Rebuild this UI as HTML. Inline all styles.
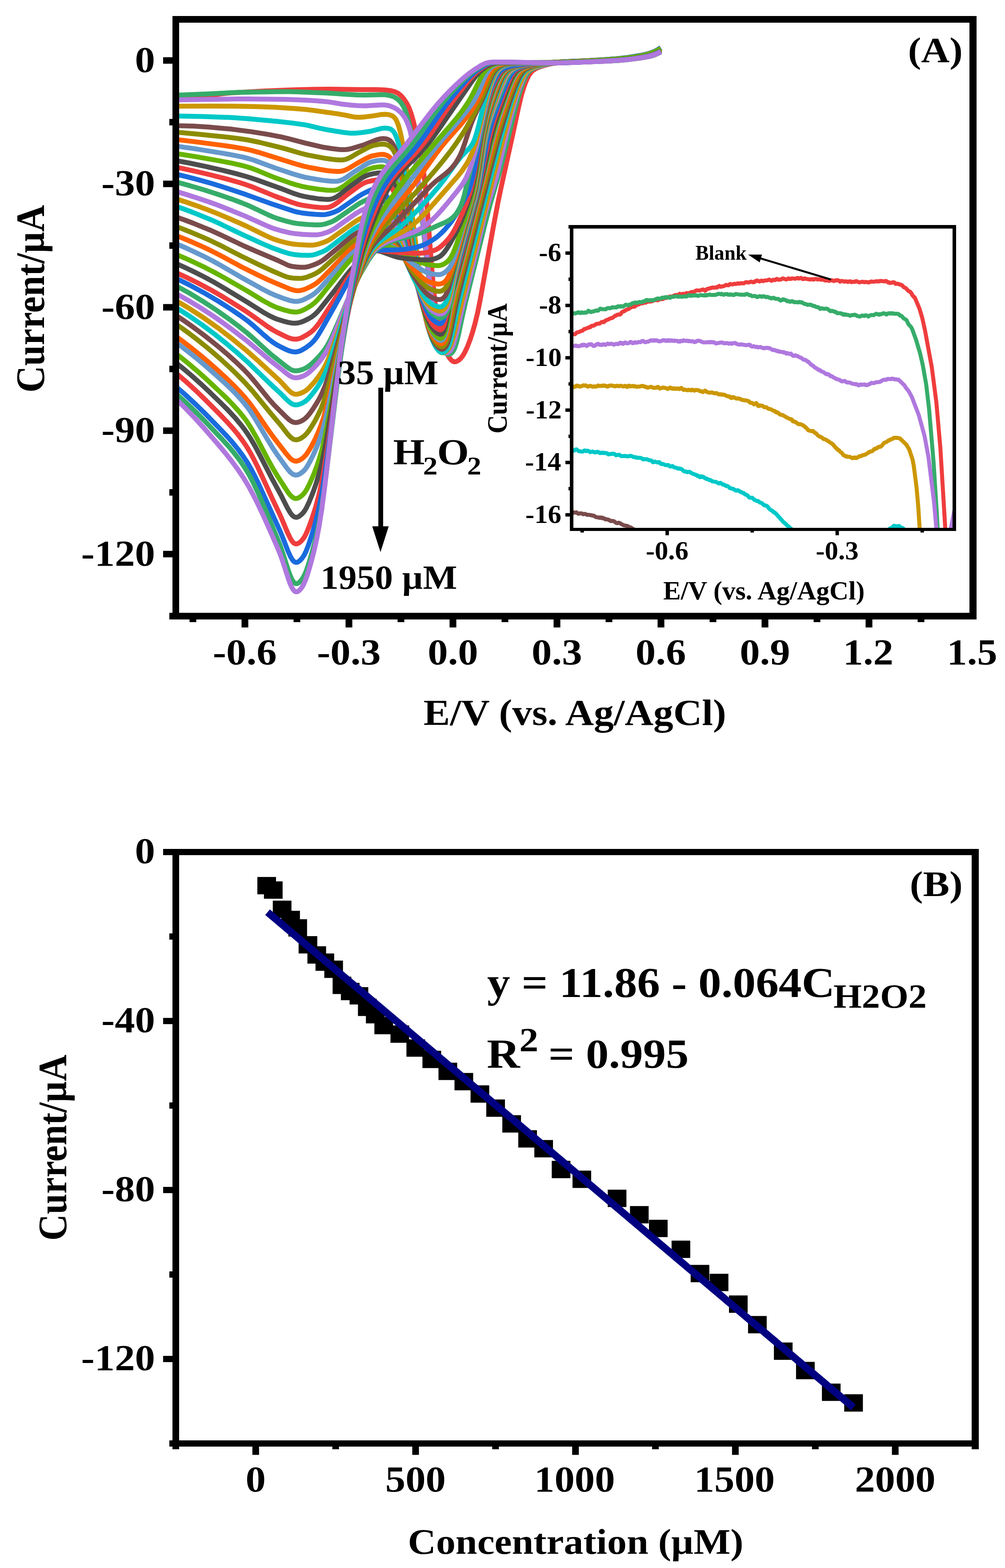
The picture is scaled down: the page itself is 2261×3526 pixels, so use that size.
<!DOCTYPE html><html><head><meta charset="utf-8"><style>html,body{margin:0;padding:0;background:#fff;}svg{display:block;}</style></head><body><svg xmlns="http://www.w3.org/2000/svg" width="2261" height="3526" viewBox="0 0 2261 3526" font-family="'Liberation Serif', 'Times New Roman', serif" font-weight="bold"><rect width="100%" height="100%" fill="#fff"/><clipPath id="cA"><rect x="403" y="51" width="1778" height="1327"/></clipPath>
<g clip-path="url(#cA)" fill="none" stroke-width="11" stroke-linejoin="round" stroke-linecap="butt">
<polyline points="395.0,223.4 424.2,219.8 472.2,214.7 503.8,210.4 517.8,209.1 588.0,205.0 626.7,203.2 660.6,201.9 708.6,200.7 741.3,200.5 813.9,201.6 846.6,201.4 865.3,202.2 878.2,203.7 887.6,206.0 894.6,209.2 898.1,211.6 901.6,214.6 905.1,218.3 908.6,222.7 912.1,227.6 915.6,233.2 920.3,242.6 925.0,255.3 929.7,271.7 935.5,296.0 944.9,339.5 949.6,364.5 951.9,379.6 954.3,397.5 957.8,431.1 961.3,472.1 971.8,608.7 976.5,659.7 978.8,680.8 982.3,707.3 984.7,722.1 988.2,740.9 991.7,756.4 996.4,773.2 999.9,783.3 1004.6,793.8 1010.4,803.8 1015.1,809.6 1017.4,811.6 1019.8,812.9 1022.1,813.5 1024.5,813.5 1026.8,812.9 1030.3,811.1 1033.8,808.5 1036.2,806.3 1040.8,800.6 1045.5,792.7 1051.4,780.1 1057.2,764.9 1063.1,747.2 1068.9,726.5 1074.8,701.9 1080.6,672.7 1109.9,510.0 1120.4,454.8 1127.4,421.3 1155.5,293.3 1167.2,238.4 1173.0,214.1 1178.9,195.0 1182.4,185.5 1185.9,177.3 1189.4,170.3 1191.8,166.5 1195.3,162.0 1198.8,158.6 1203.5,155.4 1208.1,153.0 1215.2,150.2 1223.4,147.6 1233.9,144.8 1243.2,142.9 1251.4,141.8 1263.1,141.0 1325.1,139.0 1364.9,137.4 1391.8,135.9 1411.7,134.1 1443.3,130.0 1462.0,126.6 1467.9,125.1 1473.7,123.0 1479.6,120.4 1486.6,116.8" stroke="#EF3D3D"/>
<polyline points="395.0,214.0 472.2,211.0 524.9,208.2 545.9,207.4 619.6,206.2 647.7,206.1 667.6,206.4 736.6,209.2 785.8,212.5 804.5,213.4 820.9,213.7 856.0,212.9 866.5,213.1 875.9,214.5 884.1,216.9 887.6,218.6 891.1,220.7 894.6,223.3 898.1,226.4 902.8,231.7 907.5,239.1 911.0,246.7 914.5,256.3 918.0,268.1 921.5,282.3 925.0,299.2 928.5,319.3 934.4,360.0 941.4,417.3 968.3,658.2 974.1,701.2 980.0,735.4 983.5,751.7 985.8,760.6 989.4,771.4 992.9,779.8 997.5,788.3 1001.1,792.9 1004.6,795.8 1006.9,796.7 1009.2,796.9 1011.6,796.4 1013.9,795.3 1016.3,793.5 1018.6,790.8 1020.9,787.0 1023.3,781.7 1026.8,771.1 1031.5,752.4 1042.0,702.9 1047.9,677.5 1092.3,499.2 1104.0,454.7 1120.4,399.0 1127.4,373.7 1162.5,231.0 1168.4,210.3 1175.4,189.6 1181.2,175.3 1184.7,168.4 1187.1,164.7 1189.4,161.6 1192.9,158.3 1197.6,155.3 1202.3,153.1 1209.3,150.6 1222.2,146.8 1232.7,144.0 1242.1,142.0 1252.6,140.6 1266.6,139.6 1325.1,137.4 1369.6,135.1 1394.2,133.3 1412.9,131.3 1442.1,126.9 1452.7,124.8 1460.9,122.9 1467.9,120.7 1473.7,118.4 1479.6,115.4 1486.6,111.4" stroke="#36AC6A"/>
<polyline points="395.0,224.6 530.7,222.6 557.6,222.5 644.2,223.5 688.7,225.2 713.2,226.7 733.1,228.4 742.5,229.6 770.6,234.3 790.5,236.5 804.5,237.6 822.0,238.0 857.1,236.1 864.2,236.1 868.8,236.4 877.0,238.2 886.4,242.0 893.4,246.1 900.4,251.8 905.1,256.8 909.8,263.1 913.3,269.2 916.8,276.8 920.3,286.5 922.7,294.4 927.3,315.1 930.9,334.7 934.4,357.1 942.6,417.6 949.6,477.6 967.1,639.8 973.0,687.6 977.7,720.4 981.2,741.2 984.7,759.0 988.2,773.6 990.5,781.2 992.9,786.9 994.0,789.0 996.4,791.8 997.5,792.7 999.9,793.6 1003.4,793.8 1006.9,793.1 1009.2,792.1 1011.6,790.3 1013.9,787.6 1017.4,781.1 1019.8,775.0 1022.1,767.6 1028.0,745.0 1042.0,684.0 1071.3,566.3 1091.1,482.6 1098.2,457.1 1111.0,417.5 1116.9,397.0 1123.9,368.7 1140.3,298.5 1153.2,248.2 1161.3,219.2 1168.4,198.1 1176.6,177.2 1180.1,169.9 1183.6,164.2 1187.1,160.0 1190.6,157.1 1195.3,154.4 1200.0,152.3 1207.0,150.0 1215.2,147.8 1226.9,145.1 1237.4,143.2 1247.9,141.9 1260.8,141.0 1325.1,138.8 1364.9,137.1 1391.8,135.5 1411.7,133.7 1443.3,129.5 1462.0,126.0 1467.9,124.5 1473.7,122.4 1479.6,119.7 1486.6,116.0" stroke="#AF78DE"/>
<polyline points="395.0,238.7 474.6,238.5 524.9,238.8 578.7,239.8 619.6,241.2 661.8,244.0 686.3,246.1 701.5,247.7 762.4,256.4 776.4,258.8 794.0,262.6 801.0,263.6 809.2,263.7 820.9,262.9 840.8,260.4 858.3,257.4 865.3,256.9 872.4,257.4 878.2,258.8 882.9,260.8 886.4,263.3 889.9,267.5 892.2,271.7 894.6,277.2 896.9,284.1 899.3,292.5 902.8,307.3 908.6,338.4 912.1,361.5 915.6,387.8 935.5,549.7 943.7,612.2 951.9,666.1 956.6,693.2 961.3,717.5 964.8,733.4 969.5,750.9 974.1,764.7 978.8,775.6 983.5,783.9 988.2,789.6 990.5,791.6 992.9,792.9 995.2,793.6 997.5,793.5 999.9,792.8 1003.4,790.7 1006.9,787.3 1009.2,784.2 1011.6,780.4 1013.9,775.6 1016.3,769.5 1018.6,762.2 1023.3,744.4 1038.5,679.2 1098.2,442.7 1123.9,342.3 1142.6,272.3 1153.2,235.0 1162.5,206.3 1167.2,193.9 1173.0,180.2 1177.7,170.9 1181.2,165.2 1184.7,160.9 1188.3,157.8 1192.9,154.7 1197.6,152.4 1203.5,150.1 1211.7,147.7 1222.2,145.1 1232.7,143.0 1245.6,141.1 1258.5,140.0 1278.3,138.9 1325.1,137.2 1360.2,135.3 1390.7,133.2 1412.9,130.9 1442.1,126.4 1452.7,124.3 1460.9,122.3 1467.9,120.1 1473.7,117.7 1479.6,114.7 1486.6,110.6" stroke="#CC9700"/>
<polyline points="395.0,260.9 455.8,261.9 520.2,264.3 558.8,267.0 624.3,273.0 657.1,276.6 684.0,280.4 694.5,282.3 719.1,288.4 735.5,291.7 772.9,297.8 786.9,299.4 794.0,299.6 802.2,299.3 811.5,298.4 823.2,296.8 834.9,294.9 854.8,289.6 859.5,288.6 864.2,288.1 870.0,288.2 874.7,288.9 879.4,290.7 882.9,293.2 886.4,297.3 888.7,301.4 891.1,306.6 893.4,313.0 895.8,320.6 899.3,333.9 905.1,361.8 908.6,382.6 912.1,406.3 932.0,554.1 941.4,619.9 946.1,649.2 950.7,675.8 955.4,700.4 960.1,722.4 963.6,736.8 968.3,752.7 973.0,765.4 977.7,775.5 982.3,783.2 987.0,788.7 989.4,790.7 991.7,792.1 994.0,792.8 996.4,792.8 998.7,792.1 1001.1,790.6 1003.4,788.4 1005.7,785.4 1008.1,781.5 1010.4,776.3 1013.9,765.6 1017.4,751.6 1029.1,695.5 1036.2,665.5 1105.2,393.7 1127.4,308.4 1143.8,249.9 1149.6,230.6 1155.5,212.9 1161.3,196.9 1167.2,182.8 1171.9,173.1 1176.6,165.2 1180.1,160.9 1183.6,157.7 1188.3,154.6 1192.9,152.3 1198.8,150.0 1204.6,148.3 1223.4,144.6 1239.7,142.4 1256.1,141.1 1363.8,136.8 1391.8,135.2 1411.7,133.3 1443.3,129.0 1453.8,127.2 1462.0,125.5 1467.9,123.8 1473.7,121.7 1479.6,119.0 1486.6,115.2" stroke="#00C8C8"/>
<polyline points="395.0,282.6 433.6,283.5 469.9,285.8 522.5,290.6 564.6,296.1 600.9,301.9 632.5,307.9 648.9,311.8 686.3,321.6 724.9,330.7 747.2,334.3 764.7,336.3 771.7,336.6 778.8,336.3 785.8,335.2 792.8,333.6 819.7,325.4 845.4,315.1 851.3,313.3 856.0,312.2 863.0,311.6 868.8,312.3 873.5,313.9 875.9,315.1 878.2,316.9 881.7,320.8 885.2,326.4 887.6,331.4 891.1,340.5 896.9,360.3 902.8,386.4 906.3,405.9 909.8,427.8 929.7,562.1 939.0,621.9 943.7,648.6 948.4,672.9 954.3,700.8 958.9,720.6 962.4,733.5 967.1,747.9 971.8,759.4 976.5,768.7 981.2,775.9 985.8,781.1 988.2,783.0 990.5,784.4 992.9,785.3 995.2,785.4 997.5,784.7 999.9,783.1 1003.4,778.8 1006.9,771.6 1010.4,760.5 1013.9,745.5 1024.5,691.8 1031.5,661.3 1106.4,368.0 1116.9,328.0 1125.1,298.7 1140.3,248.6 1147.3,227.3 1154.3,207.3 1160.2,192.0 1164.9,181.1 1169.5,171.6 1174.2,164.2 1177.7,160.1 1181.2,157.2 1185.9,154.2 1190.6,152.0 1196.4,149.8 1203.5,147.8 1222.2,143.9 1238.6,141.6 1254.9,140.0 1277.2,138.8 1325.1,137.0 1360.2,135.1 1390.7,132.9 1412.9,130.5 1442.1,125.9 1452.7,123.8 1460.9,121.7 1467.9,119.5 1473.7,117.1 1479.6,114.0 1486.6,109.8" stroke="#7A4B4B"/>
<polyline points="395.0,297.0 443.0,301.4 507.3,308.0 534.2,311.2 556.5,314.5 583.4,320.0 627.8,330.9 643.0,334.9 675.8,344.5 691.0,348.3 733.1,356.3 747.2,358.3 758.9,359.4 765.9,359.7 771.7,359.5 776.4,358.7 782.3,356.8 789.3,353.4 806.8,343.1 827.9,331.8 834.9,328.7 840.8,326.9 853.6,324.6 859.5,324.1 864.2,324.2 867.7,324.7 871.2,325.9 874.7,327.6 878.2,330.0 881.7,333.4 885.2,338.4 887.6,342.9 891.1,351.5 896.9,370.4 902.8,395.5 906.3,414.1 909.8,435.3 929.7,564.9 939.0,622.5 943.7,648.3 948.4,671.8 954.3,698.7 958.9,717.8 962.4,730.2 967.1,744.1 971.8,755.2 976.5,764.1 981.2,771.0 985.8,775.9 988.2,777.7 990.5,779.0 992.9,779.7 995.2,779.6 997.5,778.5 998.7,777.5 1001.1,774.6 1002.2,772.7 1005.7,764.1 1008.1,755.8 1011.6,739.6 1020.9,689.7 1028.0,658.7 1047.9,582.1 1106.4,352.1 1119.2,304.2 1126.2,280.3 1134.4,254.0 1142.6,229.4 1150.8,206.2 1156.7,191.1 1161.3,180.3 1166.0,170.9 1170.7,163.6 1174.2,159.7 1177.7,156.8 1182.4,154.0 1187.1,151.7 1191.8,150.0 1197.6,148.3 1215.2,145.0 1233.9,142.6 1253.8,141.1 1362.6,136.6 1390.7,134.9 1410.6,133.1 1441.0,128.9 1452.7,126.9 1460.9,125.2 1467.9,123.2 1473.7,121.0 1479.6,118.3 1486.6,114.5" stroke="#8C8C00"/>
<polyline points="395.0,313.6 441.8,319.1 502.6,327.1 529.5,331.1 550.6,334.8 564.6,338.0 579.9,342.1 666.4,368.9 682.8,373.6 695.7,376.5 722.6,381.5 736.6,383.7 749.5,385.1 758.9,385.6 764.7,385.4 770.6,384.5 776.4,382.6 784.6,378.6 803.3,367.4 824.4,355.9 831.4,352.6 838.4,350.3 851.3,347.9 857.1,347.3 861.8,347.2 865.3,347.7 868.8,348.7 872.4,350.3 875.9,352.7 879.4,356.0 882.9,360.6 886.4,367.0 888.7,372.3 894.6,389.0 900.4,411.3 903.9,427.9 907.5,446.9 928.5,573.1 937.9,626.2 942.6,649.9 947.2,671.6 953.1,696.5 957.8,714.2 961.3,725.8 966.0,738.8 970.6,749.3 975.3,757.7 980.0,764.3 984.7,769.2 989.4,772.3 991.7,773.1 994.0,773.0 996.4,771.9 997.5,770.8 999.9,767.4 1002.2,762.0 1004.6,754.2 1008.1,738.0 1017.4,685.9 1023.3,659.5 1043.2,583.5 1085.3,418.3 1104.0,343.6 1113.4,308.4 1120.4,284.5 1127.4,262.3 1136.8,234.5 1146.1,208.3 1152.0,193.0 1156.7,182.0 1161.3,172.4 1166.0,164.7 1168.4,161.7 1171.9,158.3 1176.6,155.1 1181.2,152.6 1187.1,150.3 1192.9,148.5 1209.3,145.1 1229.2,142.2 1251.4,140.1 1274.8,138.8 1325.1,136.8 1359.1,134.9 1389.5,132.6 1411.7,130.2 1441.0,125.7 1451.5,123.5 1460.9,121.2 1467.9,118.9 1473.7,116.4 1479.6,113.3 1486.6,109.1" stroke="#FF6100"/>
<polyline points="395.0,328.4 440.6,334.9 498.0,344.1 524.9,348.8 545.9,353.1 558.8,356.4 570.5,360.0 620.8,378.4 658.2,390.7 673.5,395.3 687.5,398.8 708.6,402.7 727.3,405.6 742.5,407.3 751.8,407.8 758.9,407.5 763.5,406.6 769.4,404.5 774.1,402.1 778.8,399.3 798.6,385.3 820.9,371.2 827.9,367.2 834.9,364.4 840.8,362.8 847.8,361.4 854.8,360.5 859.5,360.2 863.0,360.4 866.5,361.3 870.0,362.9 872.4,364.4 875.9,367.3 879.4,371.3 882.9,376.6 886.4,383.5 889.9,392.1 893.4,402.2 899.3,423.5 902.8,439.4 906.3,457.5 926.2,569.5 936.7,625.7 941.4,648.0 946.1,668.4 951.9,691.8 956.6,708.5 961.3,722.9 964.8,732.0 969.5,742.0 974.1,750.2 978.8,756.6 983.5,761.4 988.2,764.6 990.5,765.5 992.9,765.6 995.2,764.6 996.4,763.6 998.7,760.1 1001.1,754.3 1003.4,745.9 1006.9,728.7 1015.1,682.9 1020.9,656.7 1039.7,585.9 1075.9,444.2 1086.5,402.1 1102.8,334.3 1111.0,303.1 1118.1,279.3 1125.1,257.3 1133.3,233.3 1142.6,207.2 1148.5,192.0 1153.2,181.1 1157.8,171.6 1162.5,164.1 1164.9,161.3 1168.4,158.0 1173.0,154.8 1177.7,152.4 1182.4,150.5 1188.3,148.7 1203.5,145.8 1224.5,143.1 1249.1,141.2 1270.2,140.1 1322.8,138.2 1362.6,136.3 1390.7,134.6 1410.6,132.7 1441.0,128.5 1452.7,126.4 1460.9,124.6 1467.9,122.6 1473.7,120.4 1479.6,117.6 1486.6,113.7" stroke="#6699CC"/>
<polyline points="395.0,345.1 439.5,352.1 493.3,361.6 521.4,366.9 542.4,371.6 555.3,375.0 567.0,378.8 579.9,383.7 607.9,395.4 620.8,400.4 651.2,410.9 667.6,416.0 680.5,419.4 693.3,421.9 717.9,425.7 736.6,427.7 746.0,428.1 753.0,427.8 758.9,426.4 764.7,423.9 772.9,418.8 792.8,403.7 816.2,387.6 823.2,383.2 830.2,380.0 836.1,378.2 844.3,376.4 851.3,375.4 857.1,375.0 860.7,375.2 864.2,376.0 867.7,377.5 871.2,379.6 874.7,382.3 878.2,386.1 881.7,391.0 885.2,397.5 888.7,405.5 892.2,415.0 895.8,426.2 898.1,434.9 901.6,449.9 905.1,466.9 926.2,578.8 936.7,631.4 946.1,671.1 951.9,692.9 956.6,708.5 960.1,718.7 964.8,730.2 969.5,739.4 974.1,747.0 978.8,752.9 981.2,755.3 984.7,758.2 987.0,759.7 989.4,760.7 991.7,761.0 992.9,760.8 995.2,759.4 997.5,756.2 999.9,750.6 1002.2,742.3 1005.7,725.0 1012.8,685.4 1018.6,658.5 1037.3,588.4 1075.9,438.8 1085.3,400.9 1101.7,330.7 1109.9,299.1 1115.7,279.1 1122.7,257.2 1130.9,233.3 1141.5,204.1 1147.3,189.2 1152.0,178.6 1156.7,169.5 1160.2,164.2 1162.5,161.3 1166.0,158.0 1170.7,154.8 1175.4,152.4 1180.1,150.5 1185.9,148.7 1201.1,145.6 1222.2,142.6 1246.8,140.3 1269.0,138.9 1321.6,136.7 1356.7,134.7 1388.3,132.4 1410.6,130.0 1439.8,125.4 1450.3,123.3 1459.7,120.9 1466.7,118.7 1472.6,116.3 1478.4,113.3 1486.6,108.3" stroke="#66B400"/>
<polyline points="395.0,360.8 427.8,367.0 462.9,374.4 501.5,383.1 530.7,390.4 555.3,397.2 576.3,404.0 633.7,424.5 661.8,435.3 673.5,439.1 684.0,441.7 701.5,444.8 715.6,446.9 728.4,448.1 737.8,448.5 743.7,448.0 749.5,446.5 755.4,443.8 764.7,437.7 785.8,420.8 811.5,402.2 818.5,397.7 825.6,394.4 831.4,392.6 839.6,390.7 847.8,389.3 853.6,388.8 858.3,389.1 861.8,389.8 865.3,391.2 870.0,393.8 873.5,396.4 877.0,399.9 880.5,404.5 884.1,410.5 887.6,417.8 891.1,426.5 894.6,436.9 896.9,444.9 900.4,458.7 903.9,474.6 925.0,578.9 935.5,628.1 944.9,665.4 950.7,686.0 955.4,700.7 960.1,713.4 963.6,721.5 968.3,730.4 973.0,737.6 977.7,743.4 982.3,747.8 987.0,750.8 989.4,751.6 991.7,751.8 994.0,750.8 996.4,748.1 998.7,743.1 1001.1,735.4 1004.6,719.2 1011.6,681.8 1016.3,660.8 1036.2,586.5 1075.9,433.5 1084.1,399.4 1100.5,325.6 1108.7,293.7 1114.5,274.1 1120.4,256.3 1140.3,201.0 1145.0,189.2 1149.6,178.6 1154.3,169.5 1157.8,164.1 1160.2,161.3 1163.7,158.0 1168.4,154.8 1173.0,152.4 1177.7,150.5 1183.6,148.7 1197.6,146.0 1218.7,143.4 1245.6,141.2 1269.0,140.0 1322.8,138.0 1361.4,136.1 1389.5,134.3 1409.4,132.4 1439.8,128.2 1451.5,126.1 1460.9,124.0 1467.9,122.0 1473.7,119.7 1479.6,116.9 1486.6,112.9" stroke="#4D4D4D"/>
<polyline points="395.0,375.6 431.3,383.3 468.7,392.0 509.7,402.4 540.1,411.0 552.9,415.1 564.6,419.2 619.6,441.5 653.6,454.0 667.6,458.6 677.0,460.9 686.3,462.5 705.0,465.1 719.1,466.5 729.6,467.0 736.6,466.6 742.5,465.3 749.5,462.1 758.9,455.9 781.1,437.8 806.8,418.9 815.0,413.6 822.0,410.3 829.1,408.1 837.3,406.3 845.4,404.9 851.3,404.5 856.0,404.8 860.7,405.9 864.2,407.3 868.8,409.8 872.4,412.3 875.9,415.5 879.4,419.7 882.9,425.1 886.4,431.8 889.9,439.7 893.4,449.0 895.8,456.3 899.3,469.0 902.8,483.5 921.5,569.2 934.4,625.2 939.0,643.2 944.9,663.8 950.7,682.4 955.4,695.8 958.9,704.6 963.6,714.5 968.3,722.6 973.0,729.1 977.7,734.4 983.5,739.1 988.2,741.3 990.5,741.7 991.7,741.5 994.0,740.2 996.4,737.1 998.7,731.6 999.9,727.8 1003.4,713.1 1011.6,673.1 1016.3,653.7 1032.6,593.4 1072.4,442.3 1077.1,423.3 1081.8,402.5 1098.2,321.1 1101.7,306.0 1106.4,288.4 1111.0,273.0 1116.9,255.7 1139.1,196.0 1143.8,184.6 1148.5,174.6 1152.0,168.2 1155.5,163.1 1157.8,160.5 1161.3,157.4 1166.0,154.4 1170.7,152.1 1175.4,150.2 1181.2,148.5 1195.3,145.7 1216.3,142.8 1242.1,140.5 1267.8,138.8 1321.6,136.5 1356.7,134.5 1387.2,132.2 1410.6,129.6 1424.6,127.6 1439.8,124.9 1450.3,122.8 1459.7,120.4 1466.7,118.1 1472.6,115.6 1478.4,112.6 1486.6,107.5" stroke="#EF3D3D"/>
<polyline points="395.0,391.3 421.9,397.9 448.8,404.9 476.9,412.8 500.3,420.0 552.9,437.3 613.8,459.3 660.6,474.8 669.9,477.2 678.1,478.7 694.5,480.7 709.7,482.1 723.8,482.8 732.0,482.4 741.3,480.5 751.8,477.0 758.9,473.9 764.7,470.5 806.8,441.5 813.9,437.2 820.9,433.5 834.9,427.0 843.1,424.2 846.6,423.6 850.1,423.4 853.6,424.1 856.0,425.1 859.5,427.5 864.2,432.5 867.7,437.3 872.4,445.1 878.2,456.3 885.2,471.2 892.2,487.1 896.9,498.8 901.6,512.4 906.3,527.9 925.0,599.2 932.0,623.5 937.9,641.3 946.1,664.1 951.9,679.5 957.8,693.5 961.3,700.8 964.8,707.2 968.3,712.5 971.8,716.7 976.5,721.1 982.3,725.4 987.0,727.7 990.5,728.0 992.9,727.1 994.0,726.1 996.4,722.7 998.7,717.2 1001.1,709.6 1015.1,652.5 1070.1,446.5 1075.9,422.4 1080.6,400.2 1095.8,317.7 1099.3,302.0 1104.0,284.2 1108.7,269.1 1113.4,255.6 1136.8,194.0 1141.5,182.9 1145.0,175.4 1148.5,168.9 1152.0,163.6 1154.3,160.9 1157.8,157.7 1162.5,154.6 1167.2,152.2 1171.9,150.3 1176.6,148.9 1189.4,146.4 1210.5,143.8 1237.4,141.6 1267.8,139.9 1321.6,137.8 1359.1,136.0 1387.2,134.2 1408.2,132.2 1438.6,127.9 1450.3,125.8 1459.7,123.8 1466.7,121.7 1472.6,119.6 1478.4,116.8 1486.6,112.2" stroke="#1A6BDE"/>
<polyline points="395.0,408.9 426.6,417.4 459.3,427.1 490.9,437.2 521.4,447.7 543.6,456.0 557.6,461.6 569.3,466.9 604.4,483.6 615.0,488.1 625.5,491.9 645.4,497.7 660.6,501.3 672.3,503.1 691.0,504.8 709.7,505.8 721.4,505.6 730.8,503.9 742.5,500.1 749.5,497.1 756.5,493.1 802.2,461.6 809.2,457.2 816.2,453.4 831.4,446.2 840.8,442.9 845.4,442.0 849.0,441.9 852.5,442.5 854.8,443.4 858.3,445.6 863.0,450.0 866.5,454.3 871.2,461.2 877.0,471.2 884.1,484.4 891.1,498.5 895.8,508.9 900.4,520.9 905.1,534.7 923.8,597.9 932.0,623.1 937.9,638.6 946.1,658.8 951.9,672.4 957.8,684.7 962.4,693.0 966.0,698.2 969.5,702.4 974.1,706.7 980.0,710.9 985.8,713.9 990.5,714.9 994.0,714.4 997.5,712.5 999.9,710.4 1002.2,707.5 1004.6,703.7 1006.9,698.7 1009.2,692.2 1012.8,679.2 1016.3,662.6 1025.6,612.6 1032.6,580.8 1043.2,540.6 1066.6,456.2 1073.6,427.6 1079.4,397.0 1088.8,336.3 1092.3,315.4 1095.8,298.0 1100.5,279.5 1104.0,268.1 1108.7,254.6 1133.3,191.1 1137.9,180.3 1141.5,173.1 1145.0,167.0 1148.5,162.2 1150.8,159.7 1154.3,156.8 1159.0,153.8 1163.7,151.6 1168.4,149.8 1173.0,148.6 1184.7,146.6 1205.8,144.4 1231.5,142.6 1267.8,140.9 1363.8,137.4 1389.5,136.0 1407.0,134.6 1438.6,130.7 1451.5,128.7 1460.9,126.9 1467.9,125.1 1473.7,123.0 1479.6,120.4 1486.6,116.8" stroke="#36AC6A"/>
<polyline points="395.0,430.2 418.4,437.1 443.0,444.9 469.9,454.0 490.9,461.7 514.3,470.8 552.9,486.5 598.6,507.0 609.1,511.4 618.5,514.8 633.7,519.2 652.4,523.6 665.3,525.6 680.5,526.9 701.5,528.0 714.4,527.9 723.8,526.3 736.6,522.2 744.8,518.6 751.8,514.5 798.6,481.5 805.7,477.0 812.7,473.0 829.1,465.1 838.4,461.7 843.1,460.6 846.6,460.3 850.1,460.6 853.6,461.7 857.1,463.7 861.8,467.7 865.3,471.6 870.0,477.8 875.9,486.7 881.7,496.5 889.9,511.2 894.6,520.4 899.3,531.1 905.1,546.7 922.7,600.1 930.9,622.8 936.7,636.9 944.9,655.0 950.7,667.3 956.6,678.4 961.3,686.1 964.8,690.8 968.3,694.8 973.0,698.8 978.8,702.7 984.7,705.5 989.4,706.6 992.9,706.3 996.4,704.8 998.7,702.9 1001.1,700.3 1003.4,696.8 1005.7,692.2 1008.1,686.1 1011.6,673.9 1015.1,658.2 1025.6,604.8 1031.5,579.5 1045.5,527.0 1065.4,456.1 1072.4,427.6 1078.3,396.7 1087.6,334.9 1091.1,313.7 1094.7,296.0 1099.3,277.2 1104.0,261.7 1108.7,248.0 1128.6,194.9 1133.3,183.7 1137.9,173.8 1141.5,167.6 1145.0,162.6 1147.3,160.1 1150.8,157.1 1155.5,154.1 1160.2,151.8 1164.9,150.0 1169.5,148.7 1181.2,146.5 1202.3,144.0 1228.0,141.9 1265.5,139.8 1321.6,137.6 1357.9,135.8 1387.2,133.8 1408.2,131.8 1438.6,127.5 1450.3,125.3 1459.7,123.2 1466.7,121.1 1472.6,118.9 1478.4,116.1 1486.6,111.4" stroke="#AF78DE"/>
<polyline points="395.0,446.8 419.6,454.7 444.1,463.2 471.0,473.1 492.1,481.5 515.5,491.4 554.1,508.4 597.4,529.7 606.8,534.0 616.1,537.8 629.0,542.0 646.5,546.5 658.2,548.7 671.1,550.0 693.3,551.2 700.4,551.2 706.2,550.9 710.9,550.2 716.7,548.9 729.6,544.5 737.8,540.9 744.8,536.7 794.0,501.8 802.2,496.4 809.2,492.5 825.6,484.5 836.1,480.4 840.8,479.2 845.4,478.8 849.0,479.1 852.5,480.0 856.0,481.8 860.7,485.4 864.2,488.9 868.8,494.4 874.7,502.3 880.5,511.1 888.7,524.1 893.4,532.3 898.1,541.7 903.9,555.5 922.7,606.2 929.7,623.4 935.5,636.0 944.9,654.4 950.7,665.3 956.6,675.0 961.3,681.7 964.8,685.8 968.3,689.2 973.0,692.7 978.8,696.1 984.7,698.5 989.4,699.3 992.9,698.9 995.2,697.9 997.5,696.3 999.9,693.9 1002.2,690.7 1005.7,683.8 1009.2,673.5 1012.8,659.5 1023.3,608.3 1030.3,578.3 1042.0,534.8 1063.1,460.3 1067.7,442.6 1072.4,422.0 1075.9,403.3 1079.4,381.4 1086.5,333.4 1090.0,312.0 1094.7,288.9 1099.3,270.7 1104.0,255.3 1108.7,241.6 1126.2,193.9 1130.9,182.8 1135.6,173.1 1139.1,167.0 1142.6,162.2 1145.0,159.7 1148.5,156.8 1153.2,153.8 1157.8,151.6 1166.0,148.8 1177.7,146.8 1198.8,144.6 1224.5,142.8 1266.6,140.8 1362.6,137.2 1388.3,135.8 1405.9,134.3 1437.5,130.4 1451.5,128.2 1460.9,126.3 1467.9,124.5 1473.7,122.4 1479.6,119.7 1486.6,116.0" stroke="#CC9700"/>
<polyline points="395.0,463.5 414.9,470.5 434.8,478.0 475.7,494.6 495.6,503.6 545.9,527.7 590.4,548.0 612.6,557.4 636.0,565.7 651.2,570.4 661.8,572.4 675.8,573.7 692.2,574.3 701.5,573.7 706.2,572.8 712.1,571.2 726.1,565.9 733.1,562.3 740.1,557.7 790.5,519.3 798.6,513.6 805.7,509.3 824.4,499.5 830.2,496.9 834.9,495.2 839.6,494.1 844.3,493.6 847.8,493.8 851.3,494.7 854.8,496.3 859.5,499.5 863.0,502.5 867.7,507.4 873.5,514.5 879.4,522.2 887.6,533.7 892.2,541.0 896.9,549.3 902.8,561.5 921.5,606.3 929.7,624.1 935.5,635.1 943.7,649.3 949.6,659.0 955.4,667.8 960.1,673.8 963.6,677.6 968.3,681.6 973.0,684.6 978.8,687.5 984.7,689.5 989.4,690.1 992.9,689.6 995.2,688.5 997.5,686.8 1001.1,682.8 1004.6,676.5 1008.1,667.1 1012.8,649.3 1022.1,606.1 1029.1,577.3 1045.5,517.2 1061.9,460.2 1066.6,442.6 1071.3,421.9 1074.8,403.0 1078.3,380.7 1085.3,331.8 1088.8,310.1 1093.5,286.7 1098.2,268.1 1102.8,252.3 1107.5,238.1 1116.9,211.5 1122.7,195.9 1127.4,184.6 1132.1,174.6 1136.8,166.4 1140.3,161.7 1142.6,159.3 1146.1,156.5 1150.8,153.7 1155.5,151.4 1163.7,148.8 1175.4,146.6 1196.4,144.1 1221.0,142.2 1264.3,139.7 1320.5,137.4 1355.6,135.6 1384.8,133.7 1407.0,131.6 1422.3,129.6 1437.5,127.2 1450.3,124.8 1459.7,122.6 1466.7,120.5 1472.6,118.2 1478.4,115.4 1486.6,110.6" stroke="#00C8C8"/>
<polyline points="395.0,487.5 414.9,494.5 434.8,502.0 475.7,518.7 495.6,527.7 549.4,553.4 574.0,564.1 625.5,585.9 647.7,596.4 652.4,598.0 658.2,599.2 666.4,600.3 675.8,601.0 686.3,600.9 694.5,599.4 706.2,595.4 713.2,592.5 719.1,589.6 724.9,586.1 732.0,581.0 785.8,536.1 794.0,529.9 801.0,525.2 820.9,513.8 831.4,509.0 837.3,507.2 841.9,506.5 846.6,506.7 850.1,507.4 853.6,508.8 858.3,511.5 861.8,514.1 866.5,518.3 872.4,524.2 878.2,530.8 886.4,540.6 891.1,546.7 895.8,553.7 901.6,564.0 920.3,602.0 928.5,617.1 934.4,626.5 943.7,640.3 949.6,648.4 955.4,655.6 960.1,660.6 963.6,663.6 968.3,666.8 973.0,669.3 978.8,671.6 984.7,673.2 989.4,673.6 992.9,672.9 995.2,671.8 997.5,670.1 999.9,667.8 1002.2,664.6 1005.7,657.8 1009.2,648.1 1012.8,635.8 1025.6,585.4 1042.0,525.2 1064.2,447.0 1068.9,427.4 1073.6,403.1 1077.1,381.0 1085.3,324.7 1088.8,303.9 1093.5,281.5 1099.3,259.0 1104.0,243.5 1109.9,225.7 1115.7,209.0 1121.6,193.5 1126.2,182.5 1130.9,172.8 1134.4,166.8 1137.9,162.0 1140.3,159.6 1143.8,156.7 1147.3,154.4 1152.0,152.0 1160.2,149.1 1171.9,147.0 1192.9,144.7 1217.5,143.0 1265.5,140.7 1360.2,137.0 1387.2,135.5 1405.9,134.0 1437.5,129.9 1451.5,127.7 1460.9,125.7 1467.9,123.8 1473.7,121.7 1479.6,119.0 1486.6,115.2" stroke="#7A4B4B"/>
<polyline points="395.0,508.8 413.7,515.8 433.6,523.8 454.7,532.7 474.6,541.6 495.6,551.7 543.6,576.4 581.0,594.5 607.9,607.1 638.4,620.2 645.4,622.8 651.2,624.3 659.4,625.4 671.1,626.1 680.5,625.7 688.7,623.9 700.4,619.5 707.4,616.3 713.2,613.2 720.3,608.6 727.3,602.9 781.1,554.0 789.3,547.1 797.5,541.0 817.4,528.6 823.2,525.3 829.1,522.5 834.9,520.5 839.6,519.6 844.3,519.4 849.0,520.1 852.5,521.3 857.1,523.5 865.3,529.0 877.0,539.1 889.9,552.0 894.6,557.7 900.4,566.0 919.2,596.8 927.3,609.1 933.2,616.7 942.6,627.9 948.4,634.5 954.3,640.4 958.9,644.4 963.6,647.7 968.3,650.1 973.0,652.0 978.8,653.9 984.7,655.1 989.4,655.2 992.9,654.4 995.2,653.4 997.5,652.0 1001.1,648.6 1004.6,643.5 1006.9,638.8 1009.2,633.2 1012.8,623.3 1024.5,584.8 1045.5,507.7 1060.7,455.4 1066.6,432.5 1070.1,416.0 1073.6,396.2 1083.0,332.8 1087.6,304.2 1092.3,281.2 1097.0,262.3 1101.7,245.7 1106.4,230.6 1112.2,213.1 1118.1,197.1 1123.9,183.1 1128.6,173.3 1133.3,165.4 1136.8,161.0 1140.3,157.8 1143.8,155.3 1148.5,152.7 1154.3,150.3 1159.0,148.9 1164.9,147.7 1184.7,145.0 1204.6,143.1 1229.2,141.5 1267.8,139.4 1327.5,136.9 1369.6,134.5 1398.9,132.1 1422.3,129.2 1446.8,125.0 1456.2,123.0 1463.2,121.1 1469.1,119.1 1473.7,117.1 1479.6,114.0 1486.6,109.8" stroke="#8C8C00"/>
<polyline points="395.0,529.1 413.7,536.6 433.6,544.9 453.5,553.8 473.4,563.1 493.3,573.1 544.8,600.9 579.9,618.3 602.1,628.8 616.1,634.9 652.4,650.0 661.8,652.8 666.4,653.5 669.9,653.7 673.5,653.5 678.1,652.8 682.8,651.5 687.5,649.9 701.5,643.2 710.9,637.5 716.7,632.9 723.8,626.5 757.7,591.9 778.8,570.0 786.9,562.2 795.1,555.3 816.2,540.3 822.0,536.6 827.9,533.5 833.7,531.1 838.4,529.9 843.1,529.5 847.8,529.9 851.3,530.8 856.0,532.4 860.7,534.7 865.3,537.5 878.2,546.6 889.9,556.2 894.6,560.8 900.4,567.7 919.2,592.5 927.3,602.3 942.6,617.3 948.4,622.6 954.3,627.3 958.9,630.5 963.6,633.0 968.3,634.9 975.3,637.0 981.2,638.2 985.8,638.7 990.5,638.5 994.0,637.6 997.5,635.8 1001.1,633.1 1004.6,629.0 1008.1,623.3 1012.8,613.4 1017.4,601.6 1022.1,588.2 1025.6,577.0 1030.3,560.3 1044.3,507.2 1060.7,451.0 1066.6,427.3 1070.1,409.8 1072.4,396.4 1083.0,325.6 1086.5,304.4 1091.1,280.9 1097.0,256.8 1101.7,240.0 1106.4,224.7 1112.2,207.3 1116.9,194.8 1121.6,183.6 1126.2,173.8 1130.9,165.8 1134.4,161.3 1136.8,159.0 1140.3,156.2 1143.8,154.0 1148.5,151.7 1156.7,148.9 1167.2,147.1 1188.3,144.8 1212.8,143.0 1264.3,140.6 1359.1,136.8 1386.0,135.2 1405.9,133.6 1436.3,129.6 1450.3,127.4 1459.7,125.4 1466.7,123.6 1472.6,121.5 1478.4,118.9 1486.6,114.5" stroke="#FF6100"/>
<polyline points="395.0,547.6 414.9,556.1 434.8,565.2 455.8,575.2 476.9,585.9 495.6,596.2 542.4,623.4 588.0,648.8 605.6,657.9 620.8,664.7 640.7,672.1 652.4,675.8 660.6,677.4 665.3,677.7 669.9,677.5 674.6,676.7 680.5,674.9 686.3,672.4 694.5,668.1 701.5,664.1 707.4,660.1 714.4,654.1 721.4,647.0 755.4,609.3 776.4,585.4 789.3,572.3 801.0,562.5 813.9,552.7 820.9,547.8 825.6,545.0 830.2,542.6 834.9,540.9 838.4,540.1 843.1,539.7 847.8,539.9 852.5,540.8 858.3,542.6 870.0,547.7 886.4,556.7 892.2,560.6 898.1,565.2 919.2,585.1 927.3,592.0 943.7,603.5 949.6,607.2 955.4,610.4 960.1,612.5 964.8,614.1 970.6,615.5 977.7,616.8 982.3,617.4 987.0,617.5 990.5,617.2 994.0,616.2 998.7,613.9 1004.6,609.5 1009.2,604.7 1012.8,599.8 1016.3,593.3 1018.6,587.9 1022.1,578.5 1025.6,567.6 1042.0,510.3 1057.2,459.8 1064.2,432.6 1067.7,416.1 1071.3,396.7 1081.8,326.1 1085.3,304.7 1091.1,275.2 1097.0,250.9 1101.7,233.9 1106.4,218.6 1111.0,204.8 1115.7,192.5 1120.4,181.6 1125.1,172.1 1129.8,164.5 1133.3,160.3 1136.8,157.3 1140.3,154.9 1145.0,152.4 1150.8,150.1 1155.5,148.7 1161.3,147.6 1181.2,144.9 1200.0,143.2 1223.4,141.6 1267.8,139.2 1326.3,136.7 1366.1,134.4 1396.5,132.0 1419.9,129.1 1445.7,124.8 1462.0,120.8 1467.9,118.9 1473.7,116.4 1479.6,113.3 1486.6,109.1" stroke="#6699CC"/>
<polyline points="395.0,571.7 416.1,580.6 438.3,590.6 461.7,601.8 482.7,612.6 502.6,623.5 555.3,653.7 592.7,676.5 610.3,686.1 623.1,691.7 640.7,697.4 653.6,700.7 662.9,701.8 667.6,701.7 672.3,700.9 677.0,699.5 681.6,697.5 688.7,693.9 696.9,689.0 702.7,685.0 707.4,681.2 713.2,675.6 720.3,667.8 739.0,644.4 754.2,626.1 775.2,599.6 788.1,584.9 798.6,575.0 818.5,558.5 826.7,553.0 831.4,550.6 834.9,549.3 838.4,548.4 843.1,547.9 847.8,548.1 853.6,548.9 865.3,551.7 881.7,557.1 889.9,560.3 896.9,563.8 919.2,577.1 927.3,581.4 944.9,589.2 956.6,593.3 967.1,595.7 981.2,597.2 985.8,597.3 989.4,597.0 995.2,595.4 998.7,593.7 1002.2,591.6 1005.7,588.9 1009.2,585.6 1013.9,579.4 1018.6,570.6 1023.3,559.5 1028.0,546.6 1049.0,482.4 1053.7,467.0 1058.4,450.1 1061.9,436.1 1065.4,420.3 1071.3,388.0 1080.6,325.9 1085.3,298.2 1091.1,269.3 1097.0,244.8 1100.5,231.7 1105.2,216.0 1109.9,202.2 1114.5,190.2 1119.2,179.6 1123.9,170.4 1127.4,164.9 1132.1,159.4 1135.6,156.6 1140.3,153.7 1145.0,151.4 1149.6,149.7 1154.3,148.5 1160.2,147.5 1178.9,145.3 1197.6,143.8 1219.8,142.5 1267.8,140.3 1326.3,138.1 1369.6,136.0 1396.5,134.1 1418.7,131.7 1446.8,127.5 1463.2,124.0 1469.1,122.2 1473.7,120.4 1479.6,117.6 1486.6,113.7" stroke="#66B400"/>
<polyline points="395.0,592.0 416.1,601.5 437.1,611.5 459.3,622.7 479.2,633.3 498.0,644.2 557.6,680.2 595.1,703.8 605.6,709.7 615.0,714.3 624.3,718.1 637.2,722.1 648.9,725.1 657.1,726.5 664.1,726.8 669.9,726.3 677.0,724.5 684.0,721.8 693.3,717.2 701.5,712.4 707.4,707.9 713.2,702.3 719.1,695.7 724.9,688.5 754.2,651.6 777.6,620.8 788.1,608.0 796.3,599.2 818.5,576.7 825.6,570.7 829.1,568.3 832.6,566.3 836.1,564.9 840.8,563.9 844.3,563.7 849.0,564.1 854.8,565.2 860.7,566.8 886.4,576.1 893.4,578.2 899.3,579.5 911.0,581.0 932.0,583.1 947.2,584.1 960.1,584.5 966.0,584.3 971.8,583.5 977.7,582.0 983.5,579.8 988.2,577.5 991.7,575.1 995.2,572.0 999.9,566.8 1005.7,558.6 1012.8,547.1 1023.3,528.0 1030.3,514.0 1036.2,500.9 1042.0,486.3 1049.0,467.4 1054.9,450.2 1060.7,429.9 1065.4,409.1 1070.1,382.8 1078.3,329.8 1083.0,302.0 1090.0,267.0 1097.0,237.7 1100.5,224.8 1105.2,209.7 1109.9,196.7 1114.5,185.3 1119.2,175.3 1123.9,167.0 1127.4,162.2 1132.1,157.7 1135.6,155.2 1140.3,152.6 1145.0,150.6 1149.6,149.2 1161.3,146.9 1181.2,144.5 1198.8,143.0 1221.0,141.6 1267.8,139.1 1324.0,136.6 1360.2,134.5 1391.8,132.1 1415.2,129.4 1442.1,125.0 1452.7,122.7 1460.9,120.6 1467.9,118.3 1473.7,115.7 1479.6,112.6 1486.6,108.3" stroke="#4D4D4D"/>
<polyline points="395.0,612.4 419.6,623.7 445.3,636.4 473.4,651.3 495.6,664.0 520.2,679.0 552.9,699.7 565.8,708.5 602.1,734.5 613.8,742.0 624.3,747.8 645.4,758.0 651.2,760.3 657.1,762.0 662.9,762.7 667.6,762.6 673.5,761.3 679.3,759.1 689.8,753.4 700.4,746.2 706.2,740.9 713.2,732.9 719.1,724.9 724.9,716.1 754.2,671.0 777.6,633.4 786.9,619.4 795.1,608.5 817.4,580.7 824.4,573.2 830.2,568.3 833.7,566.2 837.3,564.7 841.9,563.7 846.6,563.5 861.8,564.3 898.1,567.7 929.7,569.6 944.9,569.6 951.9,569.0 958.9,567.8 968.3,565.7 976.5,563.2 982.3,560.7 987.0,557.9 992.9,553.5 999.9,547.0 1006.9,539.4 1012.8,532.2 1017.4,525.5 1022.1,517.6 1026.8,508.7 1032.6,496.4 1039.7,480.3 1046.7,463.1 1051.4,450.8 1056.0,436.9 1060.7,420.2 1065.4,398.9 1070.1,372.9 1079.4,316.5 1084.1,291.0 1091.1,257.3 1098.2,228.3 1101.7,216.0 1105.2,205.2 1109.9,192.7 1114.5,181.8 1119.2,172.3 1122.7,166.4 1126.2,161.7 1130.9,157.3 1134.4,154.9 1139.1,152.4 1143.8,150.5 1148.5,149.0 1159.0,147.1 1178.9,145.0 1196.4,143.6 1217.5,142.4 1267.8,140.1 1325.1,137.9 1364.9,135.9 1394.2,134.0 1415.2,131.7 1444.5,127.4 1462.0,123.7 1467.9,122.0 1473.7,119.7 1479.6,116.9 1486.6,112.9" stroke="#EF3D3D"/>
<polyline points="395.0,625.3 426.6,641.0 458.2,658.1 489.8,676.5 520.2,695.8 541.2,710.1 556.5,721.1 568.2,730.7 592.7,752.5 603.3,761.5 613.8,769.6 623.1,775.6 631.3,780.0 644.2,786.3 651.2,789.1 657.1,790.7 662.9,791.4 667.6,791.2 672.3,790.1 678.1,787.8 687.5,782.3 699.2,773.5 706.2,766.4 712.1,758.9 717.9,749.9 723.8,740.0 754.2,686.3 777.6,643.3 786.9,627.3 795.1,614.8 816.2,584.8 823.2,576.0 829.1,570.1 832.6,567.4 836.1,565.4 839.6,564.2 843.1,563.5 854.8,562.7 894.6,561.8 909.8,560.8 920.3,559.4 932.0,557.1 941.4,554.8 949.6,552.1 957.8,548.5 967.1,543.4 976.5,537.6 984.7,531.5 992.9,524.2 1001.1,515.8 1009.2,506.3 1016.3,497.2 1026.8,481.1 1039.7,458.3 1051.4,435.6 1054.9,427.5 1057.2,421.1 1061.9,404.7 1065.4,389.0 1070.1,364.2 1079.4,311.0 1086.5,273.9 1092.3,245.2 1098.2,220.8 1101.7,208.9 1105.2,198.7 1108.7,189.8 1113.4,179.3 1116.9,172.3 1120.4,166.4 1123.9,161.7 1127.4,158.3 1130.9,155.7 1135.6,153.0 1140.3,150.9 1145.0,149.4 1155.5,147.2 1176.6,144.6 1194.1,143.1 1215.2,141.7 1267.8,138.9 1322.8,136.4 1359.1,134.3 1391.8,131.7 1415.2,129.0 1442.1,124.5 1452.7,122.2 1460.9,120.0 1467.9,117.6 1473.7,115.1 1479.6,111.9 1486.6,107.5" stroke="#1A6BDE"/>
<polyline points="395.0,642.0 425.4,658.8 455.8,677.2 486.3,697.0 515.5,717.7 536.6,733.4 555.3,748.2 569.3,760.2 598.6,787.0 611.4,798.3 644.2,824.3 650.1,828.5 654.7,831.2 658.2,832.7 661.8,833.6 665.3,833.9 669.9,833.6 674.6,832.6 680.5,830.9 686.3,828.5 692.2,825.1 698.0,820.6 706.2,813.3 714.4,805.2 720.3,798.8 726.1,791.7 732.0,783.7 736.6,776.3 742.5,765.5 748.3,753.2 761.2,724.0 783.4,671.4 791.6,653.5 799.8,636.7 812.7,612.7 827.9,586.7 837.3,572.6 844.3,564.3 850.1,559.0 857.1,554.2 865.3,549.7 875.9,545.0 885.2,541.4 894.6,538.4 934.4,527.6 950.7,522.3 962.4,517.6 983.5,507.7 1003.4,499.2 1011.6,494.6 1018.6,489.2 1024.5,483.2 1030.3,475.3 1033.8,469.2 1037.3,461.5 1040.8,451.7 1044.3,439.7 1059.6,376.2 1072.4,332.6 1077.1,314.6 1081.8,294.0 1094.7,233.2 1099.3,214.0 1102.8,201.3 1107.5,186.8 1113.4,172.3 1115.7,167.7 1119.2,161.9 1121.6,158.8 1125.1,155.1 1130.9,150.8 1134.4,149.0 1139.1,147.2 1148.5,144.9 1159.0,143.6 1182.4,142.4 1250.3,140.7 1321.6,137.8 1376.6,134.9 1395.3,133.5 1410.6,131.9 1438.6,127.9 1449.2,126.0 1458.5,123.8 1465.5,121.8 1472.6,119.2 1479.6,115.9 1486.6,112.0" stroke="#36AC6A"/>
<polyline points="395.0,659.6 421.9,674.5 450.0,691.4 478.1,709.6 502.6,726.7 527.2,744.9 555.3,766.5 569.3,778.0 609.1,811.6 632.5,829.8 645.4,840.4 651.2,844.7 655.9,847.3 659.4,848.7 662.9,849.4 666.4,849.6 669.9,849.3 674.6,848.2 680.5,846.3 685.2,844.3 689.8,841.6 695.7,837.1 703.9,829.4 712.1,820.9 719.1,812.7 724.9,805.0 730.8,796.4 735.5,788.4 741.3,776.7 747.2,763.4 760.0,731.8 779.9,680.9 788.1,661.3 796.3,643.1 808.0,619.3 822.0,593.1 831.4,577.2 838.4,567.3 844.3,560.9 850.1,555.9 857.1,551.1 865.3,546.5 873.5,542.6 882.9,538.8 918.0,526.9 932.0,521.4 940.2,517.5 947.2,513.6 954.3,509.0 960.1,504.8 968.3,498.0 976.5,490.3 984.7,482.0 994.0,471.6 1008.1,455.0 1030.3,427.7 1037.3,418.6 1043.2,410.0 1049.0,399.4 1054.9,385.8 1059.6,372.5 1065.4,352.9 1070.1,335.0 1074.8,315.4 1092.3,235.0 1098.2,211.8 1102.8,195.9 1108.7,179.4 1113.4,169.0 1118.1,161.2 1120.4,158.1 1123.9,154.5 1129.8,150.2 1136.8,147.1 1145.0,144.9 1155.5,143.5 1180.1,142.7 1251.4,141.6 1292.4,140.3 1373.1,136.9 1394.2,135.6 1410.6,134.2 1439.8,130.5 1459.7,126.9 1466.7,125.1 1472.6,123.1 1479.6,120.1 1486.6,116.6" stroke="#AF78DE"/>
<polyline points="395.0,675.3 426.6,694.1 460.5,716.2 489.8,736.9 521.4,761.2 554.1,788.0 579.9,810.7 629.0,855.8 634.8,861.8 647.7,876.0 654.7,882.3 658.2,884.5 660.6,885.5 662.9,886.2 666.4,886.5 669.9,886.1 673.5,885.3 678.1,883.7 682.8,881.6 688.7,878.0 694.5,873.0 701.5,865.6 709.7,856.0 716.7,846.8 722.6,838.2 728.4,828.5 733.1,819.6 739.0,806.5 746.0,788.2 757.7,755.1 778.8,693.2 786.9,671.0 794.0,653.1 805.7,625.7 819.7,595.8 829.1,577.8 836.1,566.7 840.8,560.7 845.4,555.8 851.3,550.7 857.1,546.5 864.2,542.1 871.2,538.2 899.3,524.7 911.0,518.3 918.0,513.8 925.0,508.7 939.0,496.7 951.9,484.1 966.0,469.2 1026.8,399.9 1033.8,391.5 1039.7,383.9 1049.0,369.9 1054.9,359.4 1060.7,346.9 1065.4,334.8 1070.1,320.3 1077.1,293.6 1088.8,242.5 1093.5,223.3 1098.2,206.1 1102.8,191.1 1107.5,178.4 1112.2,168.2 1116.9,160.4 1121.6,155.0 1123.9,152.9 1127.4,150.4 1134.4,147.1 1139.1,145.5 1143.8,144.4 1154.3,143.1 1181.2,141.9 1252.6,140.5 1301.7,138.6 1371.9,134.9 1393.0,133.3 1410.6,131.5 1438.6,127.4 1449.2,125.4 1458.5,123.3 1465.5,121.2 1472.6,118.5 1479.6,115.1 1486.6,111.2" stroke="#CC9700"/>
<polyline points="395.0,691.0 424.2,709.5 454.7,730.5 482.7,751.3 510.8,773.9 536.6,795.8 560.0,816.7 606.8,862.1 631.3,884.8 646.5,900.1 652.4,905.2 655.9,907.6 659.4,909.3 661.8,910.0 665.3,910.5 668.8,910.3 672.3,909.5 677.0,907.9 681.6,905.7 687.5,902.0 692.2,897.9 699.2,890.1 707.4,879.8 714.4,869.9 721.4,858.7 727.3,848.1 732.0,838.3 737.8,823.9 744.8,803.8 756.5,767.4 775.2,706.9 783.4,682.3 790.5,662.4 801.0,635.2 812.7,607.4 822.0,586.8 830.2,571.1 833.7,565.4 838.4,558.9 843.1,553.4 849.0,547.6 854.8,542.7 860.7,538.3 886.4,521.1 899.3,511.2 908.6,503.0 919.2,493.1 943.7,468.3 968.3,441.4 989.4,416.7 1002.2,399.9 1025.6,367.0 1035.0,355.0 1043.2,345.8 1054.9,334.5 1059.6,329.0 1063.1,323.4 1066.6,316.0 1068.9,309.9 1072.4,299.0 1077.1,281.4 1091.1,223.2 1095.8,206.4 1100.5,191.7 1105.2,179.1 1109.9,168.8 1114.5,161.0 1119.2,155.3 1125.1,150.6 1132.1,147.0 1140.3,144.4 1150.8,143.0 1168.4,142.3 1243.2,141.5 1281.9,140.6 1371.9,136.7 1393.0,135.4 1410.6,133.8 1439.8,130.0 1451.5,128.1 1459.7,126.4 1466.7,124.5 1472.6,122.4 1479.6,119.4 1486.6,115.9" stroke="#00C8C8"/>
<polyline points="395.0,708.6 411.4,719.4 427.8,730.7 444.1,742.6 461.7,755.9 479.2,769.8 496.8,784.1 513.2,798.2 528.4,811.8 548.3,830.8 561.1,844.3 574.0,859.4 603.3,895.5 616.1,910.2 641.9,936.0 648.9,942.6 653.6,946.1 657.1,948.2 660.6,949.6 664.1,950.2 667.6,950.1 671.1,949.4 674.6,948.2 679.3,946.0 685.2,942.3 691.0,936.9 696.9,929.8 705.0,918.3 712.1,907.3 719.1,894.9 724.9,883.2 730.8,869.4 736.6,853.0 742.5,833.9 754.2,792.8 774.1,719.9 782.3,692.0 789.3,669.8 799.8,639.2 812.7,605.1 822.0,582.5 830.2,565.9 834.9,558.1 839.6,551.4 845.4,544.2 851.3,537.9 874.7,515.7 885.2,505.3 929.7,459.4 969.5,417.5 981.2,407.0 1001.1,391.7 1008.1,385.8 1016.3,377.6 1024.5,367.4 1029.1,360.2 1032.6,354.0 1036.2,346.9 1039.7,338.6 1045.5,322.4 1057.2,286.3 1060.7,276.6 1065.4,264.9 1086.5,220.4 1101.7,182.3 1106.4,171.6 1111.0,163.0 1113.4,159.5 1116.9,155.2 1119.2,153.0 1122.7,150.3 1129.8,146.6 1137.9,144.1 1148.5,142.5 1174.2,141.5 1249.1,140.4 1286.5,139.1 1367.3,134.9 1390.7,133.2 1409.4,131.3 1437.5,127.1 1449.2,124.9 1458.5,122.7 1465.5,120.6 1472.6,117.8 1479.6,114.4 1486.6,110.5" stroke="#7A4B4B"/>
<polyline points="395.0,728.0 412.5,740.3 428.9,752.4 446.5,765.9 465.2,781.0 482.7,795.8 500.3,811.2 516.7,826.3 533.1,842.1 552.9,862.4 568.2,879.5 610.3,931.0 631.3,955.7 647.7,976.8 653.6,983.1 657.1,985.9 659.4,987.3 661.8,988.3 665.3,988.9 667.6,988.9 671.1,988.1 674.6,986.8 678.1,984.9 684.0,980.9 689.8,975.2 695.7,967.4 702.7,956.5 709.7,944.4 716.7,930.9 722.6,918.0 728.4,903.1 734.3,885.1 740.1,864.1 751.8,818.0 772.9,731.5 781.1,700.6 789.3,671.9 801.0,634.9 813.9,597.9 823.2,574.1 831.4,556.8 838.4,544.5 845.4,533.9 854.8,521.2 867.7,505.1 877.0,494.1 887.6,482.4 933.2,435.2 958.9,406.5 980.0,381.8 997.5,360.4 1012.8,340.9 1026.8,321.7 1037.3,306.2 1046.7,291.4 1056.0,275.3 1065.4,258.1 1074.8,239.5 1081.8,224.4 1087.6,210.7 1098.2,184.1 1102.8,173.3 1108.7,162.3 1111.0,158.9 1114.5,154.7 1116.9,152.5 1120.4,149.8 1127.4,146.2 1135.6,143.6 1145.0,142.3 1160.2,141.8 1243.2,141.3 1277.2,140.6 1369.6,136.5 1391.8,135.1 1409.4,133.5 1439.8,129.5 1451.5,127.5 1459.7,125.8 1466.7,123.9 1472.6,121.8 1479.6,118.7 1486.6,115.1" stroke="#8C8C00"/>
<polyline points="395.0,755.8 412.5,768.6 430.1,782.1 448.8,797.2 467.5,813.0 489.8,832.6 507.3,848.7 523.7,864.6 537.7,879.0 551.8,894.6 563.5,909.2 576.3,927.0 602.1,964.9 613.8,981.4 645.4,1022.2 652.4,1030.2 655.9,1033.2 658.2,1034.8 661.8,1036.4 664.1,1036.9 666.4,1037.0 669.9,1036.4 673.5,1035.0 677.0,1033.1 682.8,1028.8 688.7,1022.6 693.3,1015.9 700.4,1003.9 708.6,988.2 715.6,972.9 721.4,958.3 727.3,941.4 733.1,921.0 739.0,897.1 750.7,844.8 771.7,746.8 779.9,711.9 788.1,679.8 799.8,638.3 812.7,596.9 822.0,570.7 826.7,559.4 831.4,549.2 838.4,535.7 846.6,521.9 857.1,506.0 867.7,491.6 880.5,475.5 913.3,437.5 928.5,418.7 943.7,398.3 977.7,350.4 992.9,330.3 1005.7,314.8 1037.3,279.3 1047.9,266.1 1057.2,253.4 1067.7,237.5 1075.9,223.0 1083.0,207.9 1093.5,181.8 1098.2,171.1 1102.8,162.3 1107.5,155.8 1109.9,153.3 1113.4,150.3 1116.9,148.1 1120.4,146.3 1128.6,143.5 1133.3,142.6 1139.1,141.9 1163.7,141.1 1246.8,140.3 1278.3,139.3 1366.1,134.7 1390.7,132.8 1409.4,130.9 1437.5,126.7 1449.2,124.4 1458.5,122.2 1465.5,120.0 1472.6,117.2 1479.6,113.7 1486.6,109.7" stroke="#FF6100"/>
<polyline points="395.0,769.6 411.4,781.6 426.6,793.3 443.0,806.5 460.5,821.2 487.4,844.8 505.0,860.6 519.0,873.9 531.9,887.0 541.2,897.2 549.4,906.7 556.5,915.5 563.5,925.3 576.3,945.4 603.3,990.8 613.8,1007.8 623.1,1021.6 644.2,1051.0 648.9,1057.1 652.4,1061.1 655.9,1064.3 659.4,1066.7 661.8,1067.7 665.3,1068.4 668.8,1068.0 672.3,1066.8 675.8,1064.9 681.6,1060.5 685.2,1057.0 687.5,1054.1 692.2,1047.1 698.0,1036.5 706.2,1019.8 713.2,1003.6 719.1,988.2 724.9,970.4 730.8,949.1 736.6,923.7 748.3,867.0 769.4,760.4 778.8,717.2 786.9,682.7 799.8,633.9 812.7,590.1 818.5,572.5 823.2,559.6 827.9,548.0 833.7,534.8 841.9,518.5 851.3,502.3 861.8,486.2 874.7,468.5 911.0,422.5 954.3,365.0 976.5,336.4 995.2,313.7 1024.5,280.6 1036.2,266.9 1049.0,250.9 1059.6,236.8 1066.6,226.0 1072.4,215.3 1078.3,202.6 1091.1,172.2 1095.8,163.3 1100.5,156.5 1102.8,153.9 1106.4,150.7 1109.9,148.3 1113.4,146.4 1116.9,144.9 1121.6,143.4 1129.8,141.9 1145.0,141.3 1243.2,141.1 1270.2,140.8 1357.9,136.8 1391.8,134.8 1407.0,133.4 1423.4,131.4 1442.1,128.7 1455.0,126.3 1463.2,124.3 1471.4,121.6 1478.4,118.5 1486.6,114.3" stroke="#6699CC"/>
<polyline points="395.0,794.6 411.4,807.3 427.8,820.7 445.3,835.7 462.9,851.4 493.3,879.7 508.5,894.2 522.5,908.5 535.4,922.7 544.8,933.9 551.8,942.9 557.6,951.2 564.6,962.2 577.5,984.9 603.3,1034.0 613.8,1053.2 623.1,1068.7 647.7,1106.7 651.2,1111.4 654.7,1115.3 658.2,1118.3 661.8,1120.2 664.1,1120.9 667.6,1120.8 671.1,1119.8 674.6,1117.9 680.5,1113.2 684.0,1109.4 686.3,1106.4 691.0,1098.8 696.9,1087.1 705.0,1068.4 712.1,1050.2 717.9,1033.0 723.8,1013.0 729.6,988.9 735.5,960.2 746.0,902.8 768.2,776.3 777.6,728.1 785.8,689.7 798.6,635.4 805.7,608.0 811.5,586.9 816.2,571.4 822.0,553.8 826.7,541.1 832.6,526.9 838.4,514.2 844.3,502.6 851.3,489.8 859.5,476.1 867.7,463.2 877.0,449.5 901.6,415.5 918.0,394.2 937.9,370.0 981.2,318.8 1012.8,282.8 1024.5,269.1 1035.0,255.9 1044.3,243.2 1051.4,232.7 1058.4,221.0 1065.4,207.8 1081.8,174.1 1086.5,166.1 1091.1,159.5 1094.7,155.6 1098.2,152.4 1105.2,147.7 1109.9,145.4 1114.5,143.7 1119.2,142.4 1123.9,141.6 1130.9,141.1 1141.5,140.8 1237.4,140.2 1270.2,139.5 1295.9,138.4 1349.7,135.4 1390.7,132.5 1408.2,130.6 1424.6,128.4 1441.0,125.6 1453.8,122.8 1462.0,120.5 1470.2,117.5 1478.4,113.6 1486.6,108.9" stroke="#66B400"/>
<polyline points="395.0,815.0 412.5,829.0 431.3,844.9 450.0,861.6 468.7,879.1 496.8,906.1 513.2,922.5 528.4,938.9 541.2,954.2 550.6,966.3 557.6,976.4 564.6,987.4 572.8,1001.5 584.5,1023.3 612.6,1077.7 631.3,1111.8 646.5,1141.9 652.4,1152.1 655.9,1157.0 658.2,1159.5 660.6,1161.4 662.9,1162.7 665.3,1163.2 667.6,1163.2 669.9,1162.6 673.5,1160.8 679.3,1156.0 682.8,1152.1 685.2,1148.9 689.8,1140.9 695.7,1128.3 703.9,1108.0 710.9,1088.2 717.9,1065.2 723.8,1042.5 729.6,1014.9 735.5,982.4 746.0,918.8 764.7,801.3 771.7,760.5 777.6,728.7 785.8,687.6 795.1,644.5 804.5,604.7 812.7,573.7 819.7,550.7 827.9,527.2 839.6,497.4 853.6,464.2 863.0,444.1 871.2,428.7 879.4,415.4 888.7,402.5 896.9,392.6 906.3,382.4 936.7,352.6 947.2,341.7 956.6,331.2 966.0,319.7 975.3,307.4 985.8,292.8 1060.7,184.4 1071.3,170.3 1078.3,162.4 1085.3,156.1 1092.3,151.0 1100.5,146.4 1106.4,143.9 1111.0,142.5 1116.9,141.4 1123.9,140.8 1244.4,141.1 1269.0,140.8 1291.2,140.0 1360.2,136.7 1395.3,134.5 1410.6,133.0 1426.9,131.0 1444.5,128.3 1456.2,126.1 1464.4,124.0 1471.4,121.6 1478.4,118.5 1486.6,114.3" stroke="#4D4D4D"/>
<polyline points="395.0,838.1 417.2,857.0 440.6,878.4 461.7,898.8 494.4,931.7 510.8,948.7 523.7,963.0 535.4,977.1 545.9,991.1 554.1,1003.0 562.3,1016.5 570.5,1031.6 578.7,1047.9 589.2,1070.2 613.8,1123.9 631.3,1160.7 647.7,1199.5 653.6,1211.4 658.2,1218.4 660.6,1220.8 662.9,1222.3 665.3,1223.1 667.6,1223.1 669.9,1222.4 672.3,1221.2 674.6,1219.5 678.1,1216.3 681.6,1212.1 684.0,1208.8 688.7,1200.2 694.5,1186.4 702.7,1163.7 709.7,1141.6 716.7,1115.9 722.6,1090.4 728.4,1059.3 734.3,1022.8 743.7,959.4 762.4,827.2 769.4,781.3 775.2,745.5 783.4,699.4 792.8,651.1 802.2,606.6 810.3,572.1 817.4,546.5 824.4,524.2 833.7,497.9 844.3,471.2 853.6,449.8 861.8,433.3 871.2,417.1 880.5,403.5 888.7,393.0 896.9,383.6 906.3,373.7 933.2,346.2 942.6,335.7 950.7,325.8 960.1,313.4 969.5,300.1 1002.2,251.2 1016.3,231.0 1038.5,201.5 1056.0,179.4 1066.6,167.8 1075.9,159.2 1086.5,151.6 1097.0,145.7 1102.8,143.3 1107.5,141.9 1113.4,140.9 1120.4,140.5 1236.2,141.1 1266.6,141.0 1290.0,140.2 1357.9,137.0 1394.2,134.8 1409.4,133.4 1425.8,131.4 1443.3,128.8 1456.2,126.4 1464.4,124.3 1471.4,122.0 1478.4,119.0 1486.6,114.8" stroke="#EF3D3D"/>
<polyline points="395.0,868.6 417.2,887.9 440.6,909.6 461.7,930.3 494.4,963.8 510.8,981.1 523.7,995.7 535.4,1010.1 545.9,1024.3 555.3,1038.3 563.5,1052.1 572.8,1069.8 582.2,1089.0 630.2,1194.5 636.0,1208.6 647.7,1238.8 653.6,1251.7 658.2,1259.4 660.6,1262.0 662.9,1263.7 665.3,1264.6 667.6,1264.6 669.9,1263.9 672.3,1262.5 674.6,1260.7 678.1,1257.1 681.6,1252.5 684.0,1248.8 688.7,1239.3 694.5,1224.1 702.7,1199.2 709.7,1174.7 715.6,1151.3 721.4,1123.6 727.3,1089.8 733.1,1050.0 742.5,980.9 760.0,846.3 767.1,796.2 772.9,757.2 781.1,707.1 790.5,654.8 799.8,606.8 808.0,569.2 815.0,541.2 822.0,516.8 829.1,495.5 837.3,473.7 845.4,454.3 854.8,434.8 864.2,418.2 873.5,403.9 881.7,392.9 889.9,382.9 899.3,372.3 925.0,344.4 940.2,326.0 956.6,303.7 989.4,255.7 1002.2,237.5 1016.3,219.2 1033.8,198.0 1051.4,178.3 1058.4,171.2 1065.4,164.8 1072.4,159.1 1079.4,154.1 1087.6,148.9 1094.7,145.2 1100.5,142.8 1105.2,141.5 1111.0,140.5 1116.9,140.1 1140.3,140.1 1232.7,141.2 1265.5,141.1 1288.9,140.4 1357.9,137.2 1393.0,135.1 1409.4,133.6 1425.8,131.6 1443.3,129.1 1456.2,126.7 1464.4,124.7 1471.4,122.4 1478.4,119.4 1486.6,115.2" stroke="#1A6BDE"/>
<polyline points="395.0,884.3 418.4,905.3 441.8,927.7 461.7,947.8 500.3,988.4 514.3,1003.8 527.2,1019.1 538.9,1034.4 549.4,1049.6 560.0,1066.9 570.5,1086.9 582.2,1111.7 595.1,1141.3 623.1,1209.0 630.2,1226.6 636.0,1243.2 648.9,1283.5 652.4,1293.2 655.9,1301.3 658.2,1305.6 660.6,1308.9 661.8,1310.1 664.1,1311.8 665.3,1312.3 667.6,1312.4 669.9,1311.7 672.3,1310.3 674.6,1308.3 678.1,1304.3 681.6,1299.2 684.0,1295.0 688.7,1284.4 694.5,1267.6 701.5,1244.2 708.6,1217.7 714.4,1192.1 720.3,1161.9 724.9,1132.9 730.8,1090.5 740.1,1015.4 758.9,858.9 765.9,804.7 771.7,762.6 779.9,708.6 789.3,652.4 798.6,600.8 806.8,559.7 812.7,533.4 818.5,510.1 825.6,485.9 832.6,465.1 839.6,446.9 847.8,428.8 856.0,413.5 865.3,398.8 873.5,387.6 881.7,377.4 912.1,343.5 926.2,326.6 941.4,306.3 971.8,263.4 984.7,245.7 997.5,229.1 1011.6,212.7 1024.5,198.6 1036.2,186.4 1045.5,177.2 1054.9,168.8 1063.1,162.2 1072.4,155.5 1083.0,148.8 1091.1,144.4 1097.0,142.2 1101.7,140.9 1107.5,140.1 1113.4,139.8 1140.3,139.9 1228.0,141.2 1263.1,141.2 1295.9,140.2 1364.9,137.0 1390.7,135.5 1405.9,134.2 1422.3,132.3 1441.0,129.7 1455.0,127.3 1463.2,125.4 1471.4,122.7 1478.4,119.8 1486.6,115.7" stroke="#36AC6A"/>
<polyline points="395.0,896.4 417.2,918.1 439.5,941.2 460.5,964.5 488.6,996.9 507.3,1019.2 522.5,1038.5 535.4,1056.1 548.3,1075.3 561.1,1096.8 575.2,1123.4 590.4,1155.1 607.9,1194.1 623.1,1228.9 630.2,1246.0 636.0,1262.2 648.9,1302.0 652.4,1311.6 655.9,1319.7 659.4,1325.8 662.9,1329.5 664.1,1330.3 666.4,1330.9 668.8,1330.6 671.1,1329.4 673.5,1327.6 677.0,1323.8 680.5,1318.8 682.8,1314.7 687.5,1304.1 692.2,1290.6 699.2,1266.8 706.2,1239.9 712.1,1213.9 717.9,1183.5 723.8,1146.2 729.6,1101.6 739.0,1022.7 756.5,868.8 763.5,811.8 770.6,759.1 778.8,703.4 786.9,652.5 802.2,565.6 809.2,528.2 813.9,506.3 819.7,482.6 824.4,466.3 830.2,448.7 836.1,433.7 843.1,418.5 850.1,405.5 858.3,392.5 865.3,382.6 873.5,372.2 901.6,339.9 913.3,325.7 956.6,268.8 971.8,249.3 984.7,233.8 997.5,219.4 1010.4,206.0 1024.5,192.1 1036.2,181.2 1047.9,171.1 1058.4,162.9 1070.1,154.8 1081.8,147.5 1090.0,143.4 1094.7,141.6 1099.3,140.5 1105.2,139.7 1111.0,139.4 1140.3,139.6 1224.5,141.2 1260.8,141.4 1293.6,140.4 1364.9,137.2 1389.5,135.8 1405.9,134.4 1422.3,132.6 1441.0,130.0 1455.0,127.6 1463.2,125.7 1471.4,123.1 1478.4,120.2 1486.6,116.2" stroke="#AF78DE"/>
</g>
<rect x="388.00" y="36.00" width="15.00" height="1357.00" fill="#000"/>
<rect x="388.00" y="36.00" width="1809.00" height="15.00" fill="#000"/>
<rect x="2181.00" y="36.00" width="16.00" height="1357.00" fill="#000"/>
<rect x="381.00" y="1378.00" width="1816.00" height="15.00" fill="#000"/>
<rect x="367.00" y="128.70" width="21.00" height="14.60" fill="#000"/>
<rect x="367.00" y="406.20" width="21.00" height="14.60" fill="#000"/>
<rect x="367.00" y="683.70" width="21.00" height="14.60" fill="#000"/>
<rect x="367.00" y="961.20" width="21.00" height="14.60" fill="#000"/>
<rect x="367.00" y="1238.70" width="21.00" height="14.60" fill="#000"/>
<rect x="381.00" y="267.45" width="7.00" height="14.60" fill="#000"/>
<rect x="381.00" y="544.95" width="7.00" height="14.60" fill="#000"/>
<rect x="381.00" y="822.45" width="7.00" height="14.60" fill="#000"/>
<rect x="381.00" y="1099.95" width="7.00" height="14.60" fill="#000"/>
<rect x="543.40" y="1393.00" width="15.20" height="18.00" fill="#000"/>
<rect x="777.40" y="1393.00" width="15.20" height="18.00" fill="#000"/>
<rect x="1011.40" y="1393.00" width="15.20" height="18.00" fill="#000"/>
<rect x="1245.40" y="1393.00" width="15.20" height="18.00" fill="#000"/>
<rect x="1479.40" y="1393.00" width="15.20" height="18.00" fill="#000"/>
<rect x="1713.40" y="1393.00" width="15.20" height="18.00" fill="#000"/>
<rect x="1947.40" y="1393.00" width="15.20" height="18.00" fill="#000"/>
<rect x="426.40" y="1393.00" width="15.20" height="6.00" fill="#000"/>
<rect x="660.40" y="1393.00" width="15.20" height="6.00" fill="#000"/>
<rect x="894.40" y="1393.00" width="15.20" height="6.00" fill="#000"/>
<rect x="1128.40" y="1393.00" width="15.20" height="6.00" fill="#000"/>
<rect x="1362.40" y="1393.00" width="15.20" height="6.00" fill="#000"/>
<rect x="1596.40" y="1393.00" width="15.20" height="6.00" fill="#000"/>
<rect x="1830.40" y="1393.00" width="15.20" height="6.00" fill="#000"/>
<rect x="2064.40" y="1393.00" width="15.20" height="6.00" fill="#000"/>
<text transform="translate(303.57,161.70) scale(1.1000,1)" font-size="82.50" fill="#000">0</text>
<text transform="translate(227.98,439.20) scale(1.1000,1)" font-size="82.50" fill="#000">-30</text>
<text transform="translate(227.98,716.70) scale(1.1000,1)" font-size="82.50" fill="#000">-60</text>
<text transform="translate(227.98,994.20) scale(1.1000,1)" font-size="82.50" fill="#000">-90</text>
<text transform="translate(182.60,1271.70) scale(1.1000,1)" font-size="82.50" fill="#000">-120</text>
<text transform="translate(478.85,1494.30) scale(1.1000,1)" font-size="82.50" fill="#000">-0.6</text>
<text transform="translate(713.08,1494.30) scale(1.1000,1)" font-size="82.50" fill="#000">-0.3</text>
<text transform="translate(962.28,1494.30) scale(1.1000,1)" font-size="82.50" fill="#000">0.0</text>
<text transform="translate(1196.10,1494.30) scale(1.1000,1)" font-size="82.50" fill="#000">0.3</text>
<text transform="translate(1429.87,1494.30) scale(1.1000,1)" font-size="82.50" fill="#000">0.6</text>
<text transform="translate(1664.19,1494.30) scale(1.1000,1)" font-size="82.50" fill="#000">0.9</text>
<text transform="translate(1896.56,1494.30) scale(1.1000,1)" font-size="82.50" fill="#000">1.2</text>
<text transform="translate(2130.28,1494.30) scale(1.1000,1)" font-size="82.50" fill="#000">1.5</text>
<text transform="translate(952.78,1630.20) scale(1.0741,1)" font-size="83.20" fill="#000">E/V (vs. Ag/AgCl)</text>
<text transform="translate(99.00,882.81) rotate(-90) scale(0.9817,1.0700)" font-size="85.00" fill="#000">Current/µA</text>
<text transform="translate(2042.69,140.00) scale(1.1144,1)" font-size="79.60" fill="#000">(A)</text>
<text transform="translate(759.87,864.30) scale(1.0361,1)" font-size="79.00" fill="#000">35 µM</text>
<text transform="translate(721.08,1324.20) scale(1.0586,1)" font-size="77.00" fill="#000">1950 µM</text>
<text transform="translate(884.55,1043.60) scale(1.1115,1)" font-size="82.00" fill="#000">H</text>
<text transform="translate(951.84,1067.00) scale(1.1413,1)" font-size="57.50" fill="#000">2</text>
<text transform="translate(983.39,1043.60) scale(1.1210,1)" font-size="82.00" fill="#000">O</text>
<text transform="translate(1051.03,1067.00) scale(1.1037,1)" font-size="57.50" fill="#000">2</text>
<rect x="851.20" y="871.80" width="10.80" height="318.20" fill="#000"/>
<polygon points="837.4,1183.6 874.5,1183.6 856.0,1241.4" fill="#000"/>
<rect x="1286" y="510" width="861" height="680" fill="#fff"/>
<clipPath id="cI"><rect x="1290" y="514" width="853" height="673"/></clipPath>
<g clip-path="url(#cI)" fill="none" stroke-width="9" stroke-linejoin="round" stroke-linecap="round">
<polyline points="1272.8,759.3 1274.0,759.3 1280.4,754.8 1286.8,752.2 1289.3,751.5 1293.2,751.7 1298.3,747.6 1303.4,746.4 1307.2,744.2 1309.8,744.0 1314.8,739.8 1316.1,740.0 1323.8,736.6 1325.0,736.8 1327.6,734.9 1328.9,735.3 1330.2,733.2 1331.4,732.7 1336.5,732.0 1341.6,728.5 1349.3,727.5 1353.1,724.5 1356.9,723.6 1358.2,724.5 1363.3,720.1 1367.1,719.2 1372.2,716.3 1378.6,714.5 1383.7,710.0 1385.0,710.0 1388.8,707.8 1391.4,707.1 1393.9,707.6 1396.5,706.2 1399.0,702.1 1402.8,700.0 1404.1,700.0 1409.2,696.5 1414.3,695.0 1419.4,691.2 1422.0,689.9 1428.3,689.5 1429.6,687.7 1436.0,684.1 1437.2,684.6 1442.4,681.4 1444.9,682.3 1450.0,680.4 1452.6,680.8 1457.7,677.5 1461.5,678.2 1467.9,677.4 1469.1,676.2 1476.8,674.2 1479.3,675.5 1484.4,672.7 1490.8,672.7 1495.9,669.8 1497.2,670.3 1501.0,669.4 1507.4,666.7 1509.9,667.5 1518.9,663.7 1521.4,663.2 1522.7,663.8 1526.5,662.8 1529.1,660.5 1534.2,662.8 1536.7,660.5 1539.3,661.5 1541.8,661.2 1544.4,659.0 1550.7,659.5 1555.8,656.5 1559.7,657.2 1566.0,653.4 1568.6,652.9 1573.7,653.6 1581.3,650.9 1583.9,651.6 1586.4,653.9 1591.5,649.5 1595.4,649.0 1597.9,647.6 1599.2,647.9 1603.0,646.6 1606.8,647.0 1611.9,645.8 1613.2,646.6 1615.8,644.2 1617.0,644.1 1618.3,643.0 1620.9,644.9 1624.7,644.4 1626.0,643.6 1628.5,643.4 1633.6,640.6 1638.7,641.6 1642.5,638.6 1647.6,639.7 1652.7,638.0 1655.3,638.8 1660.4,637.0 1662.9,638.1 1666.8,636.8 1673.1,637.2 1678.2,634.4 1684.6,635.3 1689.7,633.2 1694.8,634.9 1696.1,633.8 1697.4,634.2 1699.9,631.7 1701.2,632.1 1703.7,630.8 1708.8,633.1 1712.7,631.1 1716.5,632.2 1720.3,630.7 1725.4,630.5 1730.5,628.6 1735.6,631.5 1739.4,629.1 1743.3,630.0 1744.5,629.6 1745.8,627.7 1747.1,627.3 1748.4,627.3 1750.9,628.9 1753.5,629.0 1754.7,628.4 1756.0,628.8 1761.1,626.1 1768.8,628.5 1771.3,627.7 1773.9,625.9 1775.1,626.9 1779.0,627.3 1781.5,625.9 1789.2,626.9 1794.3,624.9 1796.8,626.4 1801.9,624.8 1805.7,627.5 1807.0,626.8 1808.3,627.5 1810.8,626.0 1812.1,626.9 1822.3,628.5 1827.4,627.6 1830.0,628.8 1833.8,627.3 1837.6,627.5 1838.9,628.6 1844.0,627.9 1847.8,629.1 1851.6,628.8 1856.7,630.9 1861.8,630.2 1864.4,631.7 1869.5,630.3 1873.3,630.6 1875.9,632.0 1881.0,630.0 1882.2,630.8 1884.8,630.1 1888.6,632.0 1889.9,633.5 1892.4,631.8 1897.5,632.4 1898.8,633.3 1900.1,632.6 1902.6,633.2 1903.9,632.5 1907.7,634.2 1909.0,633.2 1912.8,632.5 1915.4,634.6 1919.2,633.5 1923.0,634.0 1925.6,632.2 1928.1,632.7 1932.0,634.7 1934.5,634.9 1939.6,633.5 1944.7,634.7 1947.3,633.8 1952.4,634.8 1953.6,634.2 1954.9,635.1 1960.0,633.0 1965.1,633.6 1974.0,632.2 1975.3,633.0 1979.1,632.5 1980.4,631.6 1989.3,632.8 1993.2,631.7 1998.3,635.2 1999.5,634.5 2002.1,636.6 2009.7,634.6 2012.3,635.3 2014.8,638.3 2019.9,637.9 2025.0,640.2 2027.6,640.3 2030.1,642.1 2032.7,645.3 2037.8,647.9 2042.9,653.5 2048.0,656.5 2050.5,659.4 2051.8,662.4 2055.6,667.6 2056.9,667.7 2058.2,669.4 2068.4,693.5 2074.8,714.9 2081.1,743.3 2096.4,826.5 2106.6,905.2 2115.6,1007.4 2133.4,1299.4" stroke="#EF3D3D"/>
<polyline points="1272.8,708.9 1276.6,707.9 1283.0,708.0 1288.1,704.4 1294.5,704.8 1302.1,702.0 1303.4,703.5 1305.9,703.9 1307.2,703.9 1308.5,702.5 1313.6,703.4 1316.1,702.6 1318.7,703.2 1322.5,700.9 1323.8,698.8 1328.9,701.7 1330.2,701.8 1331.4,700.7 1336.5,700.1 1340.3,698.3 1345.5,698.6 1350.5,694.0 1354.4,695.3 1363.3,695.4 1364.6,693.9 1368.4,692.5 1371.0,693.3 1374.8,692.6 1377.3,690.9 1387.5,691.3 1390.1,688.8 1395.2,689.5 1396.5,688.3 1401.5,689.5 1407.9,685.1 1413.0,686.8 1414.3,685.7 1419.4,684.4 1422.0,682.4 1429.6,680.1 1430.9,681.0 1433.4,681.0 1438.5,679.0 1443.6,679.6 1446.2,678.1 1451.3,677.0 1453.8,674.8 1456.4,674.7 1458.9,675.8 1462.8,674.8 1469.1,675.4 1479.3,671.3 1485.7,671.6 1490.8,669.1 1494.6,669.9 1495.9,668.5 1499.7,668.1 1501.0,669.0 1503.6,668.6 1507.4,669.8 1509.9,668.0 1512.5,667.2 1515.0,667.7 1518.9,666.1 1526.5,667.2 1529.1,666.7 1534.2,667.4 1540.5,666.2 1541.8,667.0 1545.6,666.4 1549.5,663.5 1553.3,665.2 1554.6,664.4 1555.8,665.2 1560.9,663.9 1562.2,664.6 1567.3,664.1 1569.9,665.5 1576.2,663.4 1582.6,664.4 1585.2,663.7 1586.4,664.6 1587.7,663.4 1590.3,664.1 1596.6,662.4 1599.2,663.2 1609.4,663.3 1617.0,660.5 1622.1,661.8 1623.4,660.7 1624.7,661.9 1628.5,663.0 1631.1,661.4 1636.2,661.3 1637.4,662.5 1641.3,662.9 1642.5,662.0 1643.8,662.7 1645.1,662.0 1650.2,663.6 1655.3,661.1 1666.8,662.9 1668.0,662.4 1675.7,663.0 1677.0,661.9 1680.8,660.9 1685.9,663.8 1688.4,663.7 1692.3,666.1 1698.6,665.4 1703.7,668.2 1708.8,665.9 1713.9,667.4 1716.5,666.2 1719.0,666.3 1722.9,668.2 1726.7,667.5 1731.8,670.1 1734.3,670.0 1735.6,671.2 1739.4,669.5 1742.0,670.3 1743.3,671.7 1750.9,672.2 1756.0,675.8 1759.8,674.7 1761.1,673.1 1762.4,673.1 1768.8,675.4 1771.3,677.5 1772.6,676.7 1777.7,678.8 1780.2,677.5 1782.8,677.3 1784.1,678.5 1787.9,679.9 1789.2,679.1 1795.5,680.1 1798.1,678.7 1799.4,679.7 1801.9,679.5 1803.2,680.5 1804.5,680.0 1809.6,683.4 1812.1,683.5 1817.2,685.6 1823.6,685.1 1830.0,688.1 1832.5,688.0 1836.3,690.3 1841.4,691.0 1845.3,694.6 1849.1,693.3 1854.2,694.6 1859.3,693.9 1861.8,694.9 1868.2,699.7 1872.0,699.0 1875.9,700.1 1877.1,701.3 1878.4,700.8 1881.0,701.9 1883.5,704.3 1888.6,704.2 1893.7,705.2 1896.3,707.3 1897.5,706.5 1898.8,707.7 1901.4,706.9 1902.6,708.0 1907.7,708.1 1912.8,710.0 1916.7,708.5 1921.8,708.3 1923.0,707.6 1926.9,709.1 1928.1,710.4 1934.5,711.8 1939.6,709.5 1944.7,710.5 1947.3,708.9 1951.1,710.0 1953.6,711.8 1954.9,710.4 1958.7,708.8 1962.6,708.3 1965.1,708.9 1971.5,705.5 1977.9,707.7 1979.1,706.5 1981.7,706.9 1986.8,704.6 1989.3,704.6 1994.4,707.3 1997.0,705.1 1999.5,705.0 2000.8,704.1 2003.4,705.1 2004.6,704.4 2007.2,705.2 2008.5,704.4 2011.0,705.4 2018.7,705.5 2022.5,706.8 2023.8,708.8 2028.9,711.0 2032.7,715.6 2039.1,719.5 2044.2,729.5 2049.3,735.0 2051.8,739.2 2060.7,763.4 2069.7,793.6 2076.0,820.9 2083.7,864.8 2090.1,918.8 2100.3,1039.1 2107.9,1158.9 2115.6,1314.3" stroke="#36AC6A"/>
<polyline points="1272.8,778.2 1276.6,778.1 1277.9,779.1 1280.4,777.4 1285.5,779.2 1295.7,777.1 1297.0,778.1 1303.4,778.4 1307.2,777.1 1308.5,775.8 1311.0,776.8 1312.3,775.2 1313.6,775.8 1314.8,775.2 1320.0,778.1 1321.2,776.3 1322.5,776.2 1325.0,774.2 1326.3,774.8 1330.2,773.9 1335.2,778.0 1337.8,777.7 1342.9,774.0 1345.5,773.2 1348.0,775.0 1349.3,774.5 1350.5,775.6 1354.4,775.9 1355.7,774.6 1358.2,774.0 1362.0,775.7 1367.1,772.5 1369.7,773.9 1374.8,772.8 1381.2,775.0 1386.2,773.2 1391.4,773.7 1393.9,771.4 1396.5,770.6 1397.7,772.0 1400.3,771.6 1401.5,773.4 1402.8,771.5 1405.4,771.4 1406.7,770.0 1409.2,771.8 1411.8,772.1 1414.3,771.6 1418.1,768.9 1420.7,769.6 1423.2,771.8 1424.5,770.8 1425.8,771.3 1428.3,769.5 1429.6,770.4 1433.4,770.5 1436.0,769.1 1441.1,769.5 1444.9,766.7 1447.5,767.0 1450.0,769.1 1452.6,769.5 1456.4,768.1 1458.9,768.2 1464.0,765.3 1467.9,766.0 1469.1,765.1 1470.4,766.2 1473.0,765.0 1474.2,766.0 1476.8,765.0 1481.9,767.4 1484.4,767.6 1493.4,764.8 1498.5,766.7 1501.0,765.2 1502.3,766.2 1503.6,765.0 1504.8,765.2 1506.1,766.6 1507.4,765.1 1508.7,766.1 1511.2,765.5 1512.5,766.2 1515.0,765.9 1516.3,766.8 1517.6,766.0 1524.0,766.4 1525.2,768.0 1526.5,767.4 1529.1,768.4 1530.3,766.6 1532.9,767.1 1534.2,766.3 1535.4,767.0 1538.0,765.2 1539.3,766.3 1541.8,766.6 1545.6,766.0 1548.2,767.4 1549.5,766.5 1554.6,767.7 1558.4,767.2 1562.2,769.2 1564.8,768.9 1567.3,766.9 1571.1,766.1 1575.0,766.7 1581.3,769.7 1589.0,769.9 1592.8,769.2 1595.4,770.0 1596.6,769.0 1597.9,769.7 1600.5,768.9 1601.7,769.7 1605.6,769.5 1610.7,772.4 1622.1,770.1 1626.0,770.4 1627.2,771.7 1636.2,771.4 1640.0,772.9 1643.8,771.9 1646.4,773.1 1650.2,771.5 1654.0,771.2 1657.8,773.6 1661.7,774.8 1665.5,774.9 1666.8,774.2 1679.5,776.4 1684.6,775.1 1685.9,776.0 1687.2,775.4 1689.7,778.2 1692.3,779.5 1696.1,778.4 1697.4,779.4 1701.2,780.4 1702.5,779.8 1706.3,781.3 1710.1,780.2 1716.5,782.9 1717.8,782.3 1720.3,783.2 1721.6,782.4 1725.4,782.1 1729.2,782.5 1730.5,783.3 1731.8,783.0 1736.9,786.2 1739.4,787.2 1742.0,786.8 1748.4,789.6 1749.6,788.9 1750.9,790.2 1761.1,791.7 1762.4,792.6 1763.7,791.9 1764.9,792.9 1767.5,793.4 1768.8,795.2 1771.3,794.0 1776.4,796.2 1779.0,795.0 1784.1,800.1 1785.3,799.7 1786.6,800.3 1789.2,798.8 1790.4,800.0 1794.3,800.7 1799.4,803.7 1801.9,804.4 1808.3,809.0 1812.1,809.3 1817.2,813.5 1818.5,813.2 1824.9,820.2 1826.1,820.2 1827.4,821.9 1830.0,823.0 1833.8,827.0 1837.6,828.5 1840.2,831.3 1841.4,830.9 1844.0,833.2 1845.3,832.7 1846.5,834.3 1852.9,837.0 1858.0,841.1 1859.3,840.6 1861.8,841.9 1863.1,841.3 1866.9,843.9 1868.2,846.0 1870.8,845.8 1877.1,849.9 1878.4,849.9 1881.0,852.1 1888.6,854.1 1892.4,856.9 1895.0,857.7 1900.1,856.6 1905.2,859.9 1910.3,860.0 1919.2,863.2 1924.3,863.5 1925.6,864.5 1926.9,863.7 1932.0,866.6 1935.8,864.3 1938.3,865.4 1944.7,864.4 1946.0,865.5 1948.5,865.3 1949.8,866.3 1957.5,863.3 1960.0,861.0 1965.1,861.6 1971.5,859.5 1979.1,858.9 1986.8,854.4 1991.9,853.7 1993.2,854.2 1997.0,852.1 2002.1,852.6 2004.6,852.4 2005.9,851.4 2009.7,851.8 2012.3,853.2 2016.1,852.8 2018.7,853.9 2021.2,853.6 2035.2,867.0 2037.8,871.6 2044.2,879.4 2051.8,893.7 2067.1,933.6 2079.9,979.9 2088.8,1027.7 2101.5,1130.2 2107.9,1204.5 2114.3,1306.3" stroke="#AF78DE"/>
<polyline points="1272.8,869.4 1276.6,866.8 1279.1,868.3 1283.0,869.1 1285.5,868.0 1291.9,870.2 1293.2,869.2 1295.7,869.2 1297.0,867.2 1300.8,867.6 1303.4,869.4 1307.2,868.9 1312.3,866.5 1316.1,867.1 1317.4,866.5 1322.5,869.5 1327.6,867.6 1334.0,869.7 1336.5,868.8 1340.3,869.5 1341.6,868.7 1342.9,869.0 1345.5,866.9 1346.7,867.9 1354.4,867.4 1355.7,868.0 1356.9,866.7 1363.3,867.8 1364.6,869.0 1365.8,868.5 1367.1,869.5 1369.7,867.5 1376.0,866.7 1382.4,868.6 1383.7,868.0 1385.0,868.6 1387.5,867.3 1392.6,868.5 1396.5,867.2 1401.5,868.9 1404.1,868.9 1405.4,867.8 1406.7,867.8 1410.5,870.2 1411.8,870.0 1413.0,867.7 1415.6,867.3 1418.1,868.9 1423.2,867.8 1425.8,869.0 1427.1,868.1 1433.4,870.1 1434.7,869.2 1439.8,869.2 1442.4,868.1 1447.5,868.0 1448.7,869.1 1450.0,868.9 1452.6,870.3 1453.8,870.0 1455.1,871.4 1457.7,871.7 1462.8,869.9 1465.3,870.0 1469.1,871.9 1476.8,872.0 1478.1,870.6 1480.6,870.1 1484.4,873.6 1492.1,871.4 1501.0,873.6 1502.3,874.7 1507.4,871.6 1508.7,871.8 1509.9,873.5 1511.2,873.3 1513.8,874.4 1515.0,873.2 1516.3,874.0 1518.9,873.5 1520.1,874.7 1521.4,873.9 1526.5,873.5 1527.8,874.9 1531.6,873.7 1532.9,872.5 1538.0,876.8 1539.3,875.9 1546.9,877.5 1549.5,876.4 1554.6,877.9 1557.1,876.1 1562.2,878.4 1564.8,876.9 1566.0,877.4 1567.3,876.9 1572.4,877.9 1575.0,879.8 1576.2,879.4 1581.3,881.7 1586.4,878.4 1591.5,882.0 1595.4,883.0 1601.7,882.5 1608.1,884.6 1611.9,883.8 1617.0,886.9 1620.9,886.6 1623.4,887.5 1624.7,886.9 1627.2,887.7 1628.5,887.2 1636.2,891.0 1641.3,891.4 1642.5,893.4 1645.1,895.0 1646.4,894.9 1647.6,893.1 1650.2,893.1 1656.6,896.3 1661.7,895.9 1670.6,899.5 1680.8,900.9 1684.6,902.3 1687.2,905.5 1692.3,906.3 1696.1,909.3 1701.2,906.4 1703.7,908.9 1705.0,912.1 1706.3,913.1 1708.8,913.0 1710.1,911.6 1715.2,912.4 1719.0,915.7 1724.1,915.8 1728.0,918.8 1734.3,920.3 1738.2,922.8 1743.3,924.6 1744.5,926.2 1745.8,926.3 1747.1,927.5 1749.6,927.4 1754.7,932.1 1761.1,933.5 1771.3,939.7 1776.4,942.0 1780.2,942.7 1781.5,943.4 1782.8,946.4 1785.3,948.0 1787.9,948.0 1796.8,954.0 1800.6,953.7 1807.0,956.5 1814.7,963.0 1818.5,967.6 1826.1,969.6 1828.7,969.1 1833.8,973.8 1835.1,973.7 1840.2,979.3 1844.0,981.8 1847.8,982.8 1852.9,987.3 1855.5,987.6 1859.3,989.6 1873.3,998.8 1882.2,1009.0 1883.5,1009.4 1884.8,1011.6 1887.3,1012.3 1891.2,1016.9 1893.7,1018.3 1897.5,1023.3 1901.4,1025.5 1902.6,1025.4 1903.9,1026.8 1905.2,1026.0 1906.5,1027.1 1911.6,1027.3 1917.9,1030.5 1919.2,1029.3 1921.8,1029.6 1923.0,1028.5 1924.3,1029.9 1928.1,1029.8 1930.7,1027.4 1934.5,1025.5 1935.8,1026.0 1938.3,1025.4 1940.9,1023.5 1946.0,1022.6 1953.6,1018.0 1954.9,1016.5 1962.6,1014.3 1967.7,1009.3 1970.2,1009.2 1972.8,1007.9 1974.0,1006.2 1976.6,1005.7 1977.9,1004.5 1979.1,1004.9 1981.7,1004.3 1985.5,1000.6 1988.1,996.7 1990.6,995.1 1993.2,994.8 1998.3,990.9 2000.8,990.3 2002.1,988.8 2008.5,986.7 2011.0,984.4 2018.7,984.6 2025.0,986.2 2039.1,999.9 2045.4,1010.4 2053.1,1033.6 2055.6,1046.6 2062.0,1096.0 2065.8,1138.9 2076.0,1296.9" stroke="#CC9700"/>
<polyline points="1272.8,1010.5 1276.6,1011.5 1277.9,1010.8 1279.1,1011.4 1284.2,1011.1 1289.3,1013.8 1290.6,1012.9 1291.9,1013.3 1294.5,1010.9 1297.0,1010.5 1302.1,1014.6 1309.8,1015.5 1312.3,1015.0 1314.8,1013.0 1317.4,1013.3 1318.7,1014.5 1321.2,1013.5 1323.8,1014.0 1327.6,1016.8 1332.7,1015.2 1337.8,1017.2 1339.1,1016.7 1340.3,1017.4 1344.2,1015.9 1348.0,1017.2 1349.3,1018.8 1353.1,1018.7 1354.4,1017.7 1356.9,1018.7 1358.2,1018.1 1360.8,1019.1 1362.0,1018.6 1365.8,1019.1 1368.4,1021.7 1378.6,1020.2 1382.4,1021.0 1386.2,1023.8 1392.6,1022.4 1397.7,1025.8 1407.9,1025.3 1410.5,1026.2 1414.3,1026.1 1416.9,1025.0 1420.7,1025.4 1425.8,1028.0 1429.6,1027.9 1432.2,1029.4 1436.0,1029.1 1442.4,1030.0 1444.9,1031.2 1446.2,1032.9 1455.1,1032.5 1460.2,1034.8 1465.3,1035.6 1469.1,1039.5 1473.0,1038.0 1479.3,1040.1 1481.9,1038.9 1484.4,1040.1 1487.0,1043.3 1492.1,1043.5 1497.2,1046.0 1503.6,1045.7 1507.4,1049.0 1509.9,1049.0 1512.5,1047.9 1516.3,1050.9 1521.4,1051.9 1525.2,1053.7 1526.5,1053.2 1529.1,1054.3 1530.3,1053.7 1534.2,1055.3 1538.0,1059.4 1540.5,1060.4 1543.1,1060.1 1544.4,1061.5 1546.9,1061.8 1549.5,1060.9 1552.0,1061.3 1557.1,1064.8 1566.0,1067.9 1568.6,1069.8 1569.9,1069.3 1571.1,1071.3 1573.7,1071.2 1575.0,1073.0 1576.2,1071.1 1577.5,1072.4 1578.8,1072.6 1580.1,1071.6 1581.3,1072.8 1582.6,1072.2 1585.2,1074.7 1589.0,1076.8 1590.3,1076.4 1591.5,1077.8 1594.1,1078.1 1595.4,1079.6 1597.9,1079.3 1603.0,1082.6 1610.7,1083.6 1617.0,1087.2 1620.9,1085.7 1626.0,1089.7 1628.5,1089.7 1633.6,1092.8 1636.2,1092.7 1640.0,1095.4 1641.3,1097.3 1650.2,1099.7 1655.3,1103.2 1657.8,1103.3 1659.1,1102.3 1662.9,1103.8 1664.2,1105.3 1666.8,1106.1 1668.0,1107.3 1673.1,1108.6 1675.7,1111.6 1680.8,1113.2 1685.9,1118.9 1692.3,1119.2 1697.4,1124.2 1703.7,1126.8 1705.0,1126.5 1710.1,1130.2 1713.9,1131.3 1719.0,1136.0 1724.1,1137.1 1726.7,1139.1 1731.8,1145.4 1738.2,1149.1 1739.4,1151.3 1742.0,1151.8 1743.3,1153.6 1744.5,1153.7 1763.7,1175.2 1764.9,1175.5 1767.5,1178.6 1768.8,1178.8 1770.0,1181.1 1772.6,1182.6 1777.7,1187.6 1779.0,1187.9 1780.2,1190.1 1782.8,1191.7 1784.1,1194.1 1786.6,1194.8 1787.9,1196.2 1790.4,1195.9 1791.7,1197.8 1801.9,1205.3 1807.0,1210.9 1810.8,1213.7 1819.8,1216.0 1822.3,1218.6 1823.6,1222.0 1826.1,1224.3 1830.0,1224.1 1835.1,1229.2 1837.6,1230.8 1838.9,1230.3 1840.2,1231.6 1846.5,1233.5 1850.4,1237.9 1855.5,1239.5 1860.6,1243.8 1861.8,1243.6 1864.4,1245.2 1866.9,1248.2 1872.0,1249.4 1874.6,1252.0 1879.7,1252.2 1887.3,1257.3 1892.4,1256.2 1897.5,1257.2 1901.4,1256.4 1905.2,1257.7 1912.8,1253.2 1919.2,1253.5 1923.0,1251.2 1924.3,1249.4 1928.1,1248.4 1929.4,1248.9 1937.1,1243.2 1938.3,1243.9 1940.9,1243.4 1946.0,1237.9 1948.5,1236.4 1953.6,1234.5 1958.7,1230.6 1960.0,1230.3 1961.3,1231.2 1965.1,1227.2 1967.7,1223.1 1970.2,1220.8 1972.8,1219.8 1985.5,1204.5 1988.1,1201.9 1991.9,1199.8 2002.1,1188.3 2007.2,1186.6 2011.0,1182.3 2017.4,1183.7 2022.5,1182.7 2026.3,1186.1 2031.4,1187.6 2037.8,1196.2 2040.3,1203.0 2048.0,1228.0 2054.4,1268.4" stroke="#00C8C8"/>
<polyline points="1272.8,1150.0 1275.3,1150.6 1279.1,1150.2 1284.2,1153.3 1288.1,1151.1 1291.9,1153.0 1297.0,1152.1 1300.8,1155.3 1307.2,1154.2 1311.0,1155.3 1312.3,1156.5 1316.1,1155.5 1321.2,1157.8 1325.0,1157.7 1336.5,1160.0 1340.3,1162.7 1346.7,1163.6 1348.0,1164.4 1349.3,1163.5 1351.8,1164.6 1353.1,1163.7 1355.7,1165.4 1356.9,1164.7 1358.2,1166.1 1360.8,1166.2 1362.0,1168.1 1365.8,1167.9 1369.7,1168.8 1371.0,1170.3 1374.8,1171.7 1377.3,1171.3 1381.2,1172.2 1386.2,1175.8 1388.8,1176.4 1391.4,1175.5 1393.9,1176.1 1402.8,1181.2 1411.8,1182.9 1416.9,1185.9 1419.4,1186.2 1423.2,1189.0 1428.3,1191.3 1433.4,1191.7 1434.7,1193.7 1438.5,1194.2 1439.8,1193.5 1444.9,1196.1 1446.2,1195.6 1448.7,1196.2 1451.3,1198.8 1456.4,1200.9 1457.7,1202.3 1458.9,1201.5 1460.2,1202.7 1462.8,1203.2 1464.0,1205.1 1469.1,1206.2 1476.8,1209.9 1478.1,1211.3 1480.6,1210.9 1483.2,1213.1 1485.7,1213.6 1490.8,1217.9 1493.4,1218.4 1494.6,1219.9 1503.6,1224.4 1516.3,1228.6 1524.0,1235.1 1525.2,1237.0 1531.6,1238.8 1534.2,1241.0 1535.4,1241.0 1541.8,1247.8 1545.6,1247.9" stroke="#7A4B4B"/>
<polyline points="2146.2,1261.8 2162.7,1171.2" stroke="#36AC6A"/>
<polyline points="2124.5,1264.3 2162.7,1067.7" stroke="#AF78DE"/>
</g>
<rect x="1282.00" y="506.00" width="8.00" height="688.00" fill="#000"/>
<rect x="1279.00" y="506.00" width="872.00" height="8.00" fill="#000"/>
<rect x="2143.00" y="506.00" width="8.00" height="688.00" fill="#000"/>
<rect x="1282.00" y="1187.00" width="869.00" height="7.00" fill="#000"/>
<rect x="1272.00" y="565.25" width="10.00" height="7.70" fill="#000"/>
<rect x="1272.00" y="682.97" width="10.00" height="7.70" fill="#000"/>
<rect x="1272.00" y="800.69" width="10.00" height="7.70" fill="#000"/>
<rect x="1272.00" y="918.41" width="10.00" height="7.70" fill="#000"/>
<rect x="1272.00" y="1036.13" width="10.00" height="7.70" fill="#000"/>
<rect x="1272.00" y="1153.85" width="10.00" height="7.70" fill="#000"/>
<rect x="1279.00" y="624.11" width="3.00" height="7.70" fill="#000"/>
<rect x="1279.00" y="741.83" width="3.00" height="7.70" fill="#000"/>
<rect x="1279.00" y="859.55" width="3.00" height="7.70" fill="#000"/>
<rect x="1279.00" y="977.27" width="3.00" height="7.70" fill="#000"/>
<rect x="1279.00" y="1094.99" width="3.00" height="7.70" fill="#000"/>
<rect x="1497.15" y="1194.00" width="7.70" height="9.60" fill="#000"/>
<rect x="1879.65" y="1194.00" width="7.70" height="9.60" fill="#000"/>
<rect x="1305.90" y="1194.00" width="7.70" height="3.50" fill="#000"/>
<rect x="1688.40" y="1194.00" width="7.70" height="3.50" fill="#000"/>
<rect x="2070.90" y="1194.00" width="7.70" height="3.50" fill="#000"/>
<text transform="translate(1212.37,587.40) scale(1.0400,1)" font-size="58.40" fill="#000">-6</text>
<text transform="translate(1212.61,705.12) scale(1.0400,1)" font-size="58.40" fill="#000">-8</text>
<text transform="translate(1182.55,822.84) scale(1.0400,1)" font-size="58.40" fill="#000">-10</text>
<text transform="translate(1182.79,940.56) scale(1.0400,1)" font-size="58.40" fill="#000">-12</text>
<text transform="translate(1181.33,1058.28) scale(1.0400,1)" font-size="58.40" fill="#000">-14</text>
<text transform="translate(1182.00,1176.00) scale(1.0400,1)" font-size="58.40" fill="#000">-16</text>
<text transform="translate(1452.71,1257.50) scale(1.0400,1)" font-size="58.40" fill="#000">-0.6</text>
<text transform="translate(1835.37,1257.50) scale(1.0400,1)" font-size="58.40" fill="#000">-0.3</text>
<text transform="translate(1491.89,1347.90) scale(0.9919,1)" font-size="60.00" fill="#000">E/V (vs. Ag/AgCl)</text>
<text transform="translate(1139.80,974.98) rotate(-90) scale(0.9646,1.0500)" font-size="60.00" fill="#000">Current/µA</text>
<text transform="translate(1564.48,583.60) scale(0.9724,1)" font-size="46.40" fill="#000">Blank</text>
<line x1="1869.6" y1="628.7" x2="1707.9" y2="580.1" stroke="#000" stroke-width="4.4"/>
<polygon points="1683.0,572.6 1714.3,572.6 1709.1,589.9" fill="#000"/>
<rect x="579.00" y="1972.10" width="42.00" height="39.00" fill="#000"/>
<rect x="593.80" y="1982.00" width="42.00" height="39.00" fill="#000"/>
<rect x="613.70" y="2025.30" width="42.00" height="39.00" fill="#000"/>
<rect x="632.80" y="2048.10" width="42.00" height="39.00" fill="#000"/>
<rect x="648.80" y="2067.10" width="42.00" height="39.00" fill="#000"/>
<rect x="671.80" y="2105.10" width="42.00" height="39.00" fill="#000"/>
<rect x="691.60" y="2127.90" width="42.00" height="39.00" fill="#000"/>
<rect x="709.80" y="2144.10" width="42.00" height="39.00" fill="#000"/>
<rect x="729.60" y="2160.10" width="42.00" height="39.00" fill="#000"/>
<rect x="748.30" y="2196.30" width="42.00" height="39.00" fill="#000"/>
<rect x="766.90" y="2210.20" width="42.00" height="39.00" fill="#000"/>
<rect x="786.50" y="2219.80" width="42.00" height="39.00" fill="#000"/>
<rect x="805.30" y="2245.70" width="42.00" height="39.00" fill="#000"/>
<rect x="823.20" y="2262.30" width="42.00" height="39.00" fill="#000"/>
<rect x="842.30" y="2286.70" width="42.00" height="39.00" fill="#000"/>
<rect x="878.50" y="2305.90" width="42.00" height="39.00" fill="#000"/>
<rect x="914.40" y="2337.30" width="42.00" height="39.00" fill="#000"/>
<rect x="950.40" y="2362.80" width="42.00" height="39.00" fill="#000"/>
<rect x="986.50" y="2389.70" width="42.00" height="39.00" fill="#000"/>
<rect x="1022.50" y="2412.80" width="42.00" height="39.00" fill="#000"/>
<rect x="1058.60" y="2440.60" width="42.00" height="39.00" fill="#000"/>
<rect x="1094.00" y="2472.40" width="42.00" height="39.00" fill="#000"/>
<rect x="1130.10" y="2507.80" width="42.00" height="39.00" fill="#000"/>
<rect x="1166.00" y="2541.50" width="42.00" height="39.00" fill="#000"/>
<rect x="1202.10" y="2563.60" width="42.00" height="39.00" fill="#000"/>
<rect x="1241.30" y="2610.40" width="42.00" height="39.00" fill="#000"/>
<rect x="1288.00" y="2632.40" width="42.00" height="39.00" fill="#000"/>
<rect x="1367.30" y="2675.30" width="42.00" height="39.00" fill="#000"/>
<rect x="1417.30" y="2712.10" width="42.00" height="39.00" fill="#000"/>
<rect x="1460.00" y="2742.90" width="42.00" height="39.00" fill="#000"/>
<rect x="1510.90" y="2789.80" width="42.00" height="39.00" fill="#000"/>
<rect x="1553.80" y="2844.40" width="42.00" height="39.00" fill="#000"/>
<rect x="1596.70" y="2864.40" width="42.00" height="39.00" fill="#000"/>
<rect x="1640.00" y="2913.10" width="42.00" height="39.00" fill="#000"/>
<rect x="1682.90" y="2959.30" width="42.00" height="39.00" fill="#000"/>
<rect x="1741.10" y="3018.90" width="42.00" height="39.00" fill="#000"/>
<rect x="1790.90" y="3062.50" width="42.00" height="39.00" fill="#000"/>
<rect x="1849.10" y="3111.30" width="42.00" height="39.00" fill="#000"/>
<rect x="1899.30" y="3135.30" width="42.00" height="39.00" fill="#000"/>
<line x1="601.9" y1="2051.2" x2="1919.9" y2="3165.0" stroke="#000080" stroke-width="16.5"/>
<rect x="388.00" y="1909.00" width="15.00" height="1350.00" fill="#000"/>
<rect x="367.00" y="1909.00" width="1835.00" height="14.00" fill="#000"/>
<rect x="2186.00" y="1909.00" width="16.00" height="1350.00" fill="#000"/>
<rect x="381.00" y="3239.00" width="1821.00" height="14.00" fill="#000"/>
<rect x="367.00" y="2289.00" width="21.00" height="14.00" fill="#000"/>
<rect x="367.00" y="2669.00" width="21.00" height="14.00" fill="#000"/>
<rect x="367.00" y="3049.00" width="21.00" height="14.00" fill="#000"/>
<rect x="381.00" y="2099.00" width="7.00" height="14.00" fill="#000"/>
<rect x="381.00" y="2479.00" width="7.00" height="14.00" fill="#000"/>
<rect x="381.00" y="2859.00" width="7.00" height="14.00" fill="#000"/>
<rect x="567.80" y="3253.00" width="15.00" height="18.60" fill="#000"/>
<rect x="927.50" y="3253.00" width="15.00" height="18.60" fill="#000"/>
<rect x="1287.20" y="3253.00" width="15.00" height="18.60" fill="#000"/>
<rect x="1646.90" y="3253.00" width="15.00" height="18.60" fill="#000"/>
<rect x="2006.60" y="3253.00" width="15.00" height="18.60" fill="#000"/>
<rect x="747.65" y="3253.00" width="15.00" height="6.00" fill="#000"/>
<rect x="1107.35" y="3253.00" width="15.00" height="6.00" fill="#000"/>
<rect x="1467.05" y="3253.00" width="15.00" height="6.00" fill="#000"/>
<rect x="1826.75" y="3253.00" width="15.00" height="6.00" fill="#000"/>
<text transform="translate(303.57,1941.20) scale(1.1000,1)" font-size="82.50" fill="#000">0</text>
<text transform="translate(227.98,2321.20) scale(1.1000,1)" font-size="82.50" fill="#000">-40</text>
<text transform="translate(227.98,2701.20) scale(1.1000,1)" font-size="82.50" fill="#000">-80</text>
<text transform="translate(182.60,3081.20) scale(1.1000,1)" font-size="82.50" fill="#000">-120</text>
<text transform="translate(552.61,3354.00) scale(1.1000,1)" font-size="82.50" fill="#000">0</text>
<text transform="translate(866.85,3354.00) scale(1.1000,1)" font-size="82.50" fill="#000">500</text>
<text transform="translate(1202.04,3354.00) scale(1.1000,1)" font-size="82.50" fill="#000">1000</text>
<text transform="translate(1561.74,3354.00) scale(1.1000,1)" font-size="82.50" fill="#000">1500</text>
<text transform="translate(1923.17,3354.00) scale(1.1000,1)" font-size="82.50" fill="#000">2000</text>
<text transform="translate(917.59,3494.30) scale(1.0836,1)" font-size="81.00" fill="#000">Concentration (µM)</text>
<text transform="translate(149.30,2789.97) rotate(-90) scale(0.9737,1.0700)" font-size="85.00" fill="#000">Current/µA</text>
<text transform="translate(2046.86,2014.90) scale(1.1213,1)" font-size="79.60" fill="#000">(B)</text>
<text transform="translate(1095.97,2241.50) scale(1.0821,1)" font-size="95.50" fill="#000">y = 11.86 - 0.064C</text>
<text transform="translate(1875.00,2265.60) scale(1.0662,1)" font-size="77.00" fill="#000">H2O2</text>
<text transform="translate(1095.15,2401.30) scale(1.0966,1)" font-size="94.00" fill="#000">R</text>
<text transform="translate(1168.19,2364.10) scale(1.1323,1)" font-size="76.00" fill="#000">2</text>
<text transform="translate(1233.66,2401.30) scale(1.0948,1)" font-size="94.00" fill="#000">= 0.995</text></svg></body></html>
